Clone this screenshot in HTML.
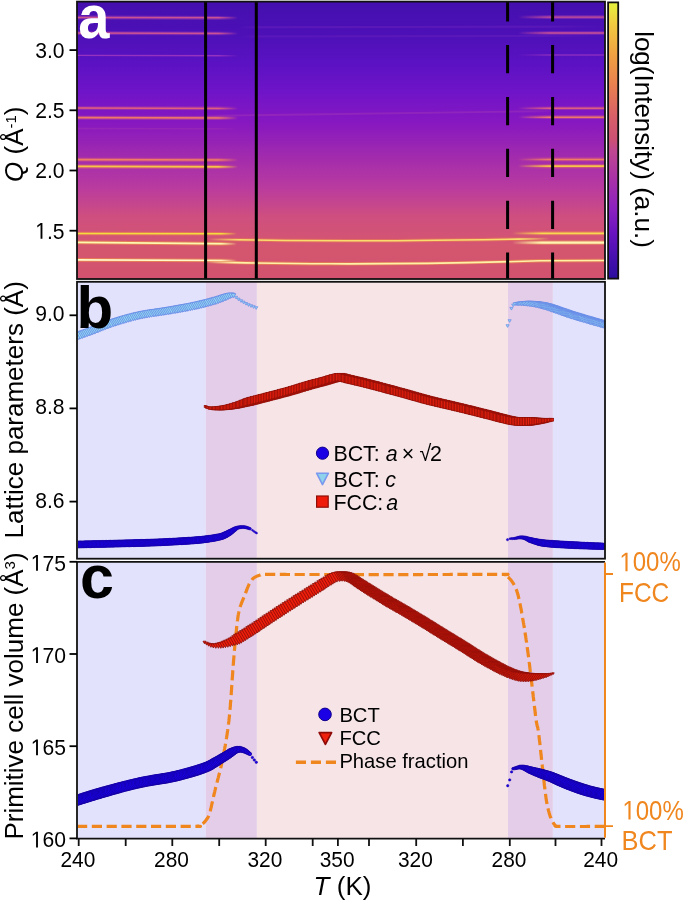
<!DOCTYPE html>
<html><head><meta charset="utf-8"><title>Figure</title><style>
html,body{margin:0;padding:0;background:#fff;}
svg{display:block;will-change:transform;font-family:"Liberation Sans",sans-serif;}
</style></head><body>
<svg width="685" height="903" viewBox="0 0 685 903">
<defs>
<linearGradient id="heat" x1="0" y1="0" x2="0" y2="1"><stop offset="0.0" stop-color="#440fae"/><stop offset="0.119" stop-color="#4d10b7"/><stop offset="0.217" stop-color="#5a12c2"/><stop offset="0.329" stop-color="#7014c8"/><stop offset="0.44" stop-color="#8818c0"/><stop offset="0.552" stop-color="#a02aae"/><stop offset="0.664" stop-color="#b83aa0"/><stop offset="0.776" stop-color="#cf4f7f"/><stop offset="0.888" stop-color="#d4566e"/><stop offset="1.0" stop-color="#d2526f"/></linearGradient>
<linearGradient id="cbar" x1="0" y1="0" x2="0" y2="1"><stop offset="0" stop-color="#e4f23c"/><stop offset="0.076" stop-color="#f0cc40"/><stop offset="0.187" stop-color="#f0a242"/><stop offset="0.299" stop-color="#e88050"/><stop offset="0.412" stop-color="#d86068"/><stop offset="0.497" stop-color="#cc5074"/><stop offset="0.535" stop-color="#c04890"/><stop offset="0.643" stop-color="#a830a8"/><stop offset="0.752" stop-color="#8a20c0"/><stop offset="0.832" stop-color="#6a14c0"/><stop offset="0.915" stop-color="#4a10b0"/><stop offset="1.0" stop-color="#2a0e9e"/></linearGradient>
<linearGradient id="fadeR" x1="0" y1="0" x2="1" y2="0"><stop offset="0" stop-color="#fff" stop-opacity="1"/><stop offset="1" stop-color="#fff" stop-opacity="0"/></linearGradient>
<clipPath id="clipA"><rect x="77" y="2" width="528" height="277"/></clipPath>
<clipPath id="clipB"><rect x="78" y="282.6" width="526.5" height="275.3"/></clipPath>
<clipPath id="clipC"><rect x="78" y="562.6" width="526.5" height="275.3"/></clipPath>
</defs>
<g clip-path="url(#clipA)">
<rect x="77" y="2" width="528" height="277" fill="url(#heat)"/>
<linearGradient id="g16" gradientUnits="userSpaceOnUse" x1="77" y1="0" x2="238" y2="0"><stop offset="0" stop-color="#b040b0" stop-opacity="0.45"/><stop offset="0.876" stop-color="#b040b0" stop-opacity="0.45"/><stop offset="1" stop-color="#b040b0" stop-opacity="0"/></linearGradient>
<path d="M77,17.4 L238,17.799999999999997" stroke="url(#g16)" stroke-width="3.7" fill="none"/>
<linearGradient id="g18" gradientUnits="userSpaceOnUse" x1="77" y1="0" x2="238" y2="0"><stop offset="0" stop-color="#d85a8c" stop-opacity="0.85"/><stop offset="0.876" stop-color="#d85a8c" stop-opacity="0.85"/><stop offset="1" stop-color="#d85a8c" stop-opacity="0"/></linearGradient>
<path d="M77,17.4 L238,17.799999999999997" stroke="url(#g18)" stroke-width="1.5" fill="none"/>
<linearGradient id="g20" gradientUnits="userSpaceOnUse" x1="77" y1="0" x2="238" y2="0"><stop offset="0" stop-color="#b040b0" stop-opacity="0.45"/><stop offset="0.876" stop-color="#b040b0" stop-opacity="0.45"/><stop offset="1" stop-color="#b040b0" stop-opacity="0"/></linearGradient>
<path d="M77,33.1 L238,33.5" stroke="url(#g20)" stroke-width="3.7" fill="none"/>
<linearGradient id="g22" gradientUnits="userSpaceOnUse" x1="77" y1="0" x2="238" y2="0"><stop offset="0" stop-color="#d85a8c" stop-opacity="0.85"/><stop offset="0.876" stop-color="#d85a8c" stop-opacity="0.85"/><stop offset="1" stop-color="#d85a8c" stop-opacity="0"/></linearGradient>
<path d="M77,33.1 L238,33.5" stroke="url(#g22)" stroke-width="1.5" fill="none"/>
<linearGradient id="g24" gradientUnits="userSpaceOnUse" x1="77" y1="0" x2="238" y2="0"><stop offset="0" stop-color="#b040c0" stop-opacity="0.7"/><stop offset="0.876" stop-color="#b040c0" stop-opacity="0.7"/><stop offset="1" stop-color="#b040c0" stop-opacity="0"/></linearGradient>
<path d="M77,55.4 L238,55.8" stroke="url(#g24)" stroke-width="1.4" fill="none"/>
<linearGradient id="g26" gradientUnits="userSpaceOnUse" x1="77" y1="0" x2="238" y2="0"><stop offset="0" stop-color="#c04890" stop-opacity="0.45"/><stop offset="0.876" stop-color="#c04890" stop-opacity="0.45"/><stop offset="1" stop-color="#c04890" stop-opacity="0"/></linearGradient>
<path d="M77,108.0 L238,108.4" stroke="url(#g26)" stroke-width="3.7" fill="none"/>
<linearGradient id="g28" gradientUnits="userSpaceOnUse" x1="77" y1="0" x2="238" y2="0"><stop offset="0" stop-color="#e0607c" stop-opacity="1"/><stop offset="0.876" stop-color="#e0607c" stop-opacity="1"/><stop offset="1" stop-color="#e0607c" stop-opacity="0"/></linearGradient>
<path d="M77,108.0 L238,108.4" stroke="url(#g28)" stroke-width="1.5" fill="none"/>
<linearGradient id="g30" gradientUnits="userSpaceOnUse" x1="77" y1="0" x2="238" y2="0"><stop offset="0" stop-color="#d05880" stop-opacity="0.45"/><stop offset="0.876" stop-color="#d05880" stop-opacity="0.45"/><stop offset="1" stop-color="#d05880" stop-opacity="0"/></linearGradient>
<path d="M77,117.6 L238,118.0" stroke="url(#g30)" stroke-width="3.8000000000000003" fill="none"/>
<linearGradient id="g32" gradientUnits="userSpaceOnUse" x1="77" y1="0" x2="238" y2="0"><stop offset="0" stop-color="#ee7868" stop-opacity="1"/><stop offset="0.876" stop-color="#ee7868" stop-opacity="1"/><stop offset="1" stop-color="#ee7868" stop-opacity="0"/></linearGradient>
<path d="M77,117.6 L238,118.0" stroke="url(#g32)" stroke-width="1.6" fill="none"/>
<linearGradient id="g34" gradientUnits="userSpaceOnUse" x1="77" y1="0" x2="238" y2="0"><stop offset="0" stop-color="#a83aa8" stop-opacity="0.35"/><stop offset="0.876" stop-color="#a83aa8" stop-opacity="0.35"/><stop offset="1" stop-color="#a83aa8" stop-opacity="0"/></linearGradient>
<path d="M77,128.5 L238,128.9" stroke="url(#g34)" stroke-width="1.4" fill="none"/>
<linearGradient id="g36" gradientUnits="userSpaceOnUse" x1="77" y1="0" x2="238" y2="0"><stop offset="0" stop-color="#e06070" stop-opacity="0.45"/><stop offset="0.876" stop-color="#e06070" stop-opacity="0.45"/><stop offset="1" stop-color="#e06070" stop-opacity="0"/></linearGradient>
<path d="M77,159.6 L238,160.0" stroke="url(#g36)" stroke-width="3.8000000000000003" fill="none"/>
<linearGradient id="g38" gradientUnits="userSpaceOnUse" x1="77" y1="0" x2="238" y2="0"><stop offset="0" stop-color="#ee7c66" stop-opacity="1"/><stop offset="0.876" stop-color="#ee7c66" stop-opacity="1"/><stop offset="1" stop-color="#ee7c66" stop-opacity="0"/></linearGradient>
<path d="M77,159.6 L238,160.0" stroke="url(#g38)" stroke-width="1.6" fill="none"/>
<linearGradient id="g40" gradientUnits="userSpaceOnUse" x1="77" y1="0" x2="238" y2="0"><stop offset="0" stop-color="#f08050" stop-opacity="0.45"/><stop offset="0.876" stop-color="#f08050" stop-opacity="0.45"/><stop offset="1" stop-color="#f08050" stop-opacity="0"/></linearGradient>
<path d="M77,166.4 L238,166.8" stroke="url(#g40)" stroke-width="4.0" fill="none"/>
<linearGradient id="g42" gradientUnits="userSpaceOnUse" x1="77" y1="0" x2="238" y2="0"><stop offset="0" stop-color="#f8c448" stop-opacity="1"/><stop offset="0.876" stop-color="#f8c448" stop-opacity="1"/><stop offset="1" stop-color="#f8c448" stop-opacity="0"/></linearGradient>
<path d="M77,166.4 L238,166.8" stroke="url(#g42)" stroke-width="1.8" fill="none"/>
<linearGradient id="g44" gradientUnits="userSpaceOnUse" x1="77" y1="0" x2="237" y2="0"><stop offset="0" stop-color="#f08848" stop-opacity="0.55"/><stop offset="0.900" stop-color="#f08848" stop-opacity="0.55"/><stop offset="1" stop-color="#f08848" stop-opacity="0"/></linearGradient>
<path d="M77,233.6 L237,233.7" stroke="url(#g44)" stroke-width="3.5" fill="none"/>
<linearGradient id="g46" gradientUnits="userSpaceOnUse" x1="77" y1="0" x2="237" y2="0"><stop offset="0" stop-color="#f4dc40" stop-opacity="1"/><stop offset="0.900" stop-color="#f4dc40" stop-opacity="1"/><stop offset="1" stop-color="#f4dc40" stop-opacity="0"/></linearGradient>
<path d="M77,233.6 L237,233.7" stroke="url(#g46)" stroke-width="1.5" fill="none"/>
<linearGradient id="g48" gradientUnits="userSpaceOnUse" x1="77" y1="0" x2="237" y2="0"><stop offset="0" stop-color="#f4a040" stop-opacity="0.55"/><stop offset="0.900" stop-color="#f4a040" stop-opacity="0.55"/><stop offset="1" stop-color="#f4a040" stop-opacity="0"/></linearGradient>
<path d="M77,242.3 L237,243.8" stroke="url(#g48)" stroke-width="3.7" fill="none"/>
<linearGradient id="g50" gradientUnits="userSpaceOnUse" x1="77" y1="0" x2="237" y2="0"><stop offset="0" stop-color="#fcf8b0" stop-opacity="1"/><stop offset="0.900" stop-color="#fcf8b0" stop-opacity="1"/><stop offset="1" stop-color="#fcf8b0" stop-opacity="0"/></linearGradient>
<path d="M77,242.3 L237,243.8" stroke="url(#g50)" stroke-width="1.7" fill="none"/>
<linearGradient id="g52" gradientUnits="userSpaceOnUse" x1="77" y1="0" x2="237" y2="0"><stop offset="0" stop-color="#f4a040" stop-opacity="0.55"/><stop offset="0.900" stop-color="#f4a040" stop-opacity="0.55"/><stop offset="1" stop-color="#f4a040" stop-opacity="0"/></linearGradient>
<path d="M77,259.8 L237,260.5" stroke="url(#g52)" stroke-width="3.7" fill="none"/>
<linearGradient id="g54" gradientUnits="userSpaceOnUse" x1="77" y1="0" x2="237" y2="0"><stop offset="0" stop-color="#fff8c8" stop-opacity="1"/><stop offset="0.900" stop-color="#fff8c8" stop-opacity="1"/><stop offset="1" stop-color="#fff8c8" stop-opacity="0"/></linearGradient>
<path d="M77,259.8 L237,260.5" stroke="url(#g54)" stroke-width="1.7" fill="none"/>
<linearGradient id="g56" gradientUnits="userSpaceOnUse" x1="518" y1="0" x2="605" y2="0"><stop offset="0" stop-color="#b040b0" stop-opacity="0"/><stop offset="0.368" stop-color="#b040b0" stop-opacity="0.45"/><stop offset="1" stop-color="#b040b0" stop-opacity="0.45"/></linearGradient>
<path d="M518,17.1 L605,17.1" stroke="url(#g56)" stroke-width="3.6" fill="none"/>
<linearGradient id="g58" gradientUnits="userSpaceOnUse" x1="518" y1="0" x2="605" y2="0"><stop offset="0" stop-color="#d85a8c" stop-opacity="0"/><stop offset="0.368" stop-color="#d85a8c" stop-opacity="0.8"/><stop offset="1" stop-color="#d85a8c" stop-opacity="0.8"/></linearGradient>
<path d="M518,17.1 L605,17.1" stroke="url(#g58)" stroke-width="1.4" fill="none"/>
<linearGradient id="g60" gradientUnits="userSpaceOnUse" x1="518" y1="0" x2="605" y2="0"><stop offset="0" stop-color="#b040b0" stop-opacity="0"/><stop offset="0.368" stop-color="#b040b0" stop-opacity="0.45"/><stop offset="1" stop-color="#b040b0" stop-opacity="0.45"/></linearGradient>
<path d="M518,33.0 L605,33.0" stroke="url(#g60)" stroke-width="3.6" fill="none"/>
<linearGradient id="g62" gradientUnits="userSpaceOnUse" x1="518" y1="0" x2="605" y2="0"><stop offset="0" stop-color="#d85a8c" stop-opacity="0"/><stop offset="0.368" stop-color="#d85a8c" stop-opacity="0.8"/><stop offset="1" stop-color="#d85a8c" stop-opacity="0.8"/></linearGradient>
<path d="M518,33.0 L605,33.0" stroke="url(#g62)" stroke-width="1.4" fill="none"/>
<linearGradient id="g64" gradientUnits="userSpaceOnUse" x1="518" y1="0" x2="605" y2="0"><stop offset="0" stop-color="#b040c0" stop-opacity="0"/><stop offset="0.368" stop-color="#b040c0" stop-opacity="0.55"/><stop offset="1" stop-color="#b040c0" stop-opacity="0.55"/></linearGradient>
<path d="M518,55.0 L605,55.0" stroke="url(#g64)" stroke-width="1.3" fill="none"/>
<linearGradient id="g66" gradientUnits="userSpaceOnUse" x1="518" y1="0" x2="605" y2="0"><stop offset="0" stop-color="#c04890" stop-opacity="0"/><stop offset="0.368" stop-color="#c04890" stop-opacity="0.45"/><stop offset="1" stop-color="#c04890" stop-opacity="0.45"/></linearGradient>
<path d="M518,108.2 L605,108.2" stroke="url(#g66)" stroke-width="3.6" fill="none"/>
<linearGradient id="g68" gradientUnits="userSpaceOnUse" x1="518" y1="0" x2="605" y2="0"><stop offset="0" stop-color="#e0607c" stop-opacity="0"/><stop offset="0.368" stop-color="#e0607c" stop-opacity="0.95"/><stop offset="1" stop-color="#e0607c" stop-opacity="0.95"/></linearGradient>
<path d="M518,108.2 L605,108.2" stroke="url(#g68)" stroke-width="1.4" fill="none"/>
<linearGradient id="g70" gradientUnits="userSpaceOnUse" x1="518" y1="0" x2="605" y2="0"><stop offset="0" stop-color="#d05880" stop-opacity="0"/><stop offset="0.368" stop-color="#d05880" stop-opacity="0.45"/><stop offset="1" stop-color="#d05880" stop-opacity="0.45"/></linearGradient>
<path d="M518,117.2 L605,117.2" stroke="url(#g70)" stroke-width="3.7" fill="none"/>
<linearGradient id="g72" gradientUnits="userSpaceOnUse" x1="518" y1="0" x2="605" y2="0"><stop offset="0" stop-color="#ee7868" stop-opacity="0"/><stop offset="0.368" stop-color="#ee7868" stop-opacity="1"/><stop offset="1" stop-color="#ee7868" stop-opacity="1"/></linearGradient>
<path d="M518,117.2 L605,117.2" stroke="url(#g72)" stroke-width="1.5" fill="none"/>
<linearGradient id="g74" gradientUnits="userSpaceOnUse" x1="518" y1="0" x2="605" y2="0"><stop offset="0" stop-color="#e06070" stop-opacity="0"/><stop offset="0.368" stop-color="#e06070" stop-opacity="0.45"/><stop offset="1" stop-color="#e06070" stop-opacity="0.45"/></linearGradient>
<path d="M518,159.4 L605,159.4" stroke="url(#g74)" stroke-width="3.7" fill="none"/>
<linearGradient id="g76" gradientUnits="userSpaceOnUse" x1="518" y1="0" x2="605" y2="0"><stop offset="0" stop-color="#ee7c66" stop-opacity="0"/><stop offset="0.368" stop-color="#ee7c66" stop-opacity="1"/><stop offset="1" stop-color="#ee7c66" stop-opacity="1"/></linearGradient>
<path d="M518,159.4 L605,159.4" stroke="url(#g76)" stroke-width="1.5" fill="none"/>
<linearGradient id="g78" gradientUnits="userSpaceOnUse" x1="518" y1="0" x2="605" y2="0"><stop offset="0" stop-color="#f08050" stop-opacity="0"/><stop offset="0.368" stop-color="#f08050" stop-opacity="0.45"/><stop offset="1" stop-color="#f08050" stop-opacity="0.45"/></linearGradient>
<path d="M518,166.2 L605,166.2" stroke="url(#g78)" stroke-width="3.9000000000000004" fill="none"/>
<linearGradient id="g80" gradientUnits="userSpaceOnUse" x1="518" y1="0" x2="605" y2="0"><stop offset="0" stop-color="#f8c448" stop-opacity="0"/><stop offset="0.368" stop-color="#f8c448" stop-opacity="1"/><stop offset="1" stop-color="#f8c448" stop-opacity="1"/></linearGradient>
<path d="M518,166.2 L605,166.2" stroke="url(#g80)" stroke-width="1.7" fill="none"/>
<linearGradient id="g82" gradientUnits="userSpaceOnUse" x1="512" y1="0" x2="605" y2="0"><stop offset="0" stop-color="#f09050" stop-opacity="0"/><stop offset="0.323" stop-color="#f09050" stop-opacity="0.45"/><stop offset="1" stop-color="#f09050" stop-opacity="0.45"/></linearGradient>
<path d="M512,233.3 L605,233.3" stroke="url(#g82)" stroke-width="4.0" fill="none"/>
<linearGradient id="g84" gradientUnits="userSpaceOnUse" x1="512" y1="0" x2="605" y2="0"><stop offset="0" stop-color="#f8d850" stop-opacity="0"/><stop offset="0.323" stop-color="#f8d850" stop-opacity="1"/><stop offset="1" stop-color="#f8d850" stop-opacity="1"/></linearGradient>
<path d="M512,233.3 L605,233.3" stroke="url(#g84)" stroke-width="1.8" fill="none"/>
<linearGradient id="g86" gradientUnits="userSpaceOnUse" x1="512" y1="0" x2="605" y2="0"><stop offset="0" stop-color="#f8c050" stop-opacity="0"/><stop offset="0.323" stop-color="#f8c050" stop-opacity="0.45"/><stop offset="1" stop-color="#f8c050" stop-opacity="0.45"/></linearGradient>
<path d="M512,242.6 L605,242.6" stroke="url(#g86)" stroke-width="4.4" fill="none"/>
<linearGradient id="g88" gradientUnits="userSpaceOnUse" x1="512" y1="0" x2="605" y2="0"><stop offset="0" stop-color="#fff4b0" stop-opacity="0"/><stop offset="0.323" stop-color="#fff4b0" stop-opacity="1"/><stop offset="1" stop-color="#fff4b0" stop-opacity="1"/></linearGradient>
<path d="M512,242.6 L605,242.6" stroke="url(#g88)" stroke-width="2.2" fill="none"/>
<linearGradient id="fccL" gradientUnits="userSpaceOnUse" x1="206" y1="0" x2="605" y2="0"><stop offset="0" stop-color="#fff0a8" stop-opacity="0"/><stop offset="0.07" stop-color="#fff0a8" stop-opacity="1"/><stop offset="1" stop-color="#fff0a8" stop-opacity="1"/></linearGradient>
<linearGradient id="fccG" gradientUnits="userSpaceOnUse" x1="206" y1="0" x2="605" y2="0"><stop offset="0" stop-color="#f4a040" stop-opacity="0"/><stop offset="0.07" stop-color="#f4a040" stop-opacity="0.5"/><stop offset="1" stop-color="#f4a040" stop-opacity="0.5"/></linearGradient>
<path d="M206,262.1 C240,262.6 270,263.6 330,263.8 S480,262.6 540,260.8 L605,260.5" stroke="url(#fccG)" stroke-width="3.4" fill="none"/>
<path d="M206,262.1 C240,262.6 270,263.6 330,263.8 S480,262.6 540,260.8 L605,260.5" stroke="url(#fccL)" stroke-width="1.6" fill="none"/>
<linearGradient id="fccU" gradientUnits="userSpaceOnUse" x1="208" y1="0" x2="550" y2="0"><stop offset="0" stop-color="#f8dc70" stop-opacity="0"/><stop offset="0.09" stop-color="#f8dc70" stop-opacity="1"/><stop offset="0.91" stop-color="#f8dc70" stop-opacity="1"/><stop offset="1" stop-color="#f8dc70" stop-opacity="0"/></linearGradient>
<linearGradient id="fccUG" gradientUnits="userSpaceOnUse" x1="208" y1="0" x2="550" y2="0"><stop offset="0" stop-color="#f08848" stop-opacity="0"/><stop offset="0.09" stop-color="#f08848" stop-opacity="0.5"/><stop offset="0.91" stop-color="#f08848" stop-opacity="0.5"/><stop offset="1" stop-color="#f08848" stop-opacity="0"/></linearGradient>
<path d="M208,239.4 C260,240.2 300,240.7 350,240.8 S460,239.9 550,238.6" stroke="url(#fccUG)" stroke-width="3.4" fill="none"/>
<path d="M208,239.4 C260,240.2 300,240.7 350,240.8 S460,239.9 550,238.6" stroke="url(#fccU)" stroke-width="1.6" fill="none"/>
<linearGradient id="g98" gradientUnits="userSpaceOnUse" x1="240" y1="0" x2="605" y2="0"><stop offset="0" stop-color="#9838c8" stop-opacity="0"/><stop offset="0.055" stop-color="#9838c8" stop-opacity="0.2"/><stop offset="0.836" stop-color="#9838c8" stop-opacity="0.2"/><stop offset="1" stop-color="#9838c8" stop-opacity="0"/></linearGradient>
<path d="M240,27.4 L605,26.5" stroke="url(#g98)" stroke-width="2.0" fill="none"/>
<linearGradient id="g100" gradientUnits="userSpaceOnUse" x1="240" y1="0" x2="605" y2="0"><stop offset="0" stop-color="#9838c8" stop-opacity="0"/><stop offset="0.055" stop-color="#9838c8" stop-opacity="0.17"/><stop offset="0.836" stop-color="#9838c8" stop-opacity="0.17"/><stop offset="1" stop-color="#9838c8" stop-opacity="0"/></linearGradient>
<path d="M240,36.5 L605,35.8" stroke="url(#g100)" stroke-width="2.0" fill="none"/>
<linearGradient id="g102" gradientUnits="userSpaceOnUse" x1="200" y1="0" x2="560" y2="0"><stop offset="0" stop-color="#c050a8" stop-opacity="0"/><stop offset="0.056" stop-color="#c050a8" stop-opacity="0.25"/><stop offset="0.917" stop-color="#c050a8" stop-opacity="0.25"/><stop offset="1" stop-color="#c050a8" stop-opacity="0"/></linearGradient>
<path d="M200,116 L560,111" stroke="url(#g102)" stroke-width="1.8" fill="none"/>
</g>
<g stroke="#000" stroke-width="3" fill="none">
<path d="M205.6,2 V279 M256.3,2 V279"/>
<path d="M507.6,2 V279 M552.6,2 V279" stroke-dasharray="28.3 23.6" stroke-dashoffset="8.9"/>
</g>
<rect x="77" y="1.6" width="528" height="277.4" fill="none" stroke="#111" stroke-width="1.8"/>
<rect x="608.1" y="2.4" width="10.1" height="276.2" fill="url(#cbar)" stroke="#111" stroke-width="1.8"/>
<text transform="translate(78.2,37.7) scale(0.92,1)" font-size="61" font-weight="bold" fill="#fff">a</text>
<path d="M69.5,50.1 H77.0" stroke="#000" stroke-width="1.8"/>
<g transform="translate(64.60,58.10) scale(0.96,1.04) translate(-64.60,-58.10)"><text x="34.02" y="58.10" font-size="22" fill="#000">3.0</text></g>
<path d="M69.5,110.3 H77.0" stroke="#000" stroke-width="1.8"/>
<g transform="translate(64.60,118.30) scale(0.96,1.04) translate(-64.60,-118.30)"><text x="34.02" y="118.30" font-size="22" fill="#000">2.5</text></g>
<path d="M69.5,170.5 H77.0" stroke="#000" stroke-width="1.8"/>
<g transform="translate(64.60,178.50) scale(0.96,1.04) translate(-64.60,-178.50)"><text x="34.02" y="178.50" font-size="22" fill="#000">2.0</text></g>
<path d="M69.5,230.7 H77.0" stroke="#000" stroke-width="1.8"/>
<g transform="translate(64.60,238.70) scale(0.96,1.04) translate(-64.60,-238.70)"><path transform="translate(34.02,238.70) scale(0.01074,-0.01074)" d="M515 0V1237L197 1010V1180L530 1409H696V0Z" fill="#000"/><text x="46.25" y="238.70" font-size="22" fill="#000">.5</text></g>
<text transform="translate(23.3,144.2) rotate(-90)" font-size="26" text-anchor="middle"><tspan font-style="italic">Q</tspan> (Å<tspan font-size="15" dy="-7.5">-1</tspan><tspan dy="7.5">)</tspan></text>
<text transform="translate(634.7,139.5) rotate(90)" font-size="26" text-anchor="middle">log(Intensity) (a.u.)</text>
<rect x="78.0" y="281.8" width="127.8" height="276.9" fill="#e2e2fd"/>
<rect x="205.8" y="281.8" width="51.1" height="276.9" fill="#e4cde8"/>
<rect x="256.9" y="281.8" width="251.1" height="276.9" fill="#f6e4e7"/>
<rect x="508.0" y="281.8" width="44.9" height="276.9" fill="#e4cde8"/>
<rect x="552.9" y="281.8" width="51.3" height="276.9" fill="#e2e2fd"/>
<g clip-path="url(#clipB)">
<g fill="#92d8f0" stroke="#6a8ce8" stroke-width="0.9"><path d="M65.8,335.6L74.2,335.6L70.0,342.8Z"/><path d="M67.5,335.1L75.9,335.1L71.7,342.2Z"/><path d="M69.4,334.4L77.8,334.4L73.6,341.6Z"/><path d="M70.9,333.9L79.3,333.9L75.1,341.1Z"/><path d="M72.8,333.2L81.2,333.2L77.0,340.4Z"/><path d="M74.6,332.6L83.0,332.6L78.8,339.7Z"/><path d="M76.3,332.0L84.7,332.0L80.5,339.1Z"/><path d="M78.2,331.3L86.6,331.3L82.4,338.4Z"/><path d="M79.8,330.7L88.2,330.7L84.0,337.8Z"/><path d="M81.4,330.1L89.8,330.1L85.6,337.2Z"/><path d="M83.1,329.5L91.5,329.5L87.3,336.6Z"/><path d="M84.8,328.9L93.2,328.9L89.0,336.0Z"/><path d="M86.5,328.2L94.9,328.2L90.7,335.4Z"/><path d="M88.1,327.6L96.5,327.6L92.3,334.8Z"/><path d="M89.7,327.1L98.1,327.1L93.9,334.2Z"/><path d="M91.2,326.5L99.6,326.5L95.4,333.6Z"/><path d="M92.8,325.9L101.2,325.9L97.0,333.0Z"/><path d="M94.3,325.3L102.7,325.3L98.5,332.4Z"/><path d="M95.8,324.7L104.2,324.7L100.0,331.8Z"/><path d="M97.6,323.9L106.0,323.9L101.8,331.1Z"/><path d="M99.5,323.2L107.9,323.2L103.7,330.3Z"/><path d="M101.3,322.5L109.7,322.5L105.5,329.6Z"/><path d="M102.8,321.9L111.2,321.9L107.0,329.0Z"/><path d="M104.4,321.3L112.8,321.3L108.6,328.4Z"/><path d="M106.0,320.7L114.4,320.7L110.2,327.9Z"/><path d="M107.5,320.2L115.9,320.2L111.7,327.3Z"/><path d="M109.4,319.6L117.8,319.6L113.6,326.7Z"/><path d="M110.9,319.1L119.3,319.1L115.1,326.2Z"/><path d="M112.5,318.6L120.9,318.6L116.7,325.7Z"/><path d="M114.1,318.1L122.5,318.1L118.3,325.2Z"/><path d="M115.7,317.6L124.1,317.6L119.9,324.7Z"/><path d="M117.3,317.1L125.7,317.1L121.5,324.2Z"/><path d="M118.9,316.6L127.3,316.6L123.1,323.7Z"/><path d="M120.5,316.1L128.9,316.1L124.7,323.3Z"/><path d="M122.1,315.7L130.5,315.7L126.3,322.8Z"/><path d="M124.0,315.1L132.4,315.1L128.2,322.3Z"/><path d="M125.8,314.6L134.2,314.6L130.0,321.8Z"/><path d="M127.4,314.2L135.8,314.2L131.6,321.3Z"/><path d="M129.4,313.7L137.8,313.7L133.6,320.8Z"/><path d="M131.2,313.2L139.6,313.2L135.4,320.4Z"/><path d="M133.0,312.8L141.4,312.8L137.2,319.9Z"/><path d="M134.7,312.4L143.1,312.4L138.9,319.5Z"/><path d="M136.6,312.0L145.0,312.0L140.8,319.1Z"/><path d="M138.2,311.6L146.6,311.6L142.4,318.8Z"/><path d="M139.9,311.3L148.3,311.3L144.1,318.4Z"/><path d="M141.8,310.9L150.2,310.9L146.0,318.1Z"/><path d="M143.5,310.6L151.9,310.6L147.7,317.8Z"/><path d="M145.3,310.3L153.7,310.3L149.5,317.5Z"/><path d="M147.2,310.0L155.6,310.0L151.4,317.2Z"/><path d="M149.1,309.7L157.5,309.7L153.3,316.9Z"/><path d="M150.7,309.5L159.1,309.5L154.9,316.7Z"/><path d="M152.4,309.3L160.8,309.3L156.6,316.4Z"/><path d="M154.0,309.0L162.4,309.0L158.2,316.2Z"/><path d="M155.7,308.8L164.1,308.8L159.9,315.9Z"/><path d="M157.4,308.6L165.8,308.6L161.6,315.7Z"/><path d="M159.0,308.3L167.4,308.3L163.2,315.4Z"/><path d="M160.7,308.1L169.1,308.1L164.9,315.2Z"/><path d="M162.4,307.8L170.8,307.8L166.6,314.9Z"/><path d="M164.1,307.5L172.5,307.5L168.3,314.7Z"/><path d="M165.8,307.2L174.2,307.2L170.0,314.4Z"/><path d="M167.7,306.9L176.1,306.9L171.9,314.1Z"/><path d="M169.7,306.6L178.1,306.6L173.9,313.7Z"/><path d="M171.3,306.3L179.7,306.3L175.5,313.4Z"/><path d="M172.9,306.0L181.3,306.0L177.1,313.2Z"/><path d="M174.6,305.7L183.0,305.7L178.8,312.9Z"/><path d="M176.2,305.4L184.6,305.4L180.4,312.6Z"/><path d="M177.9,305.1L186.3,305.1L182.1,312.3Z"/><path d="M179.5,304.8L187.9,304.8L183.7,312.0Z"/><path d="M181.2,304.5L189.6,304.5L185.4,311.7Z"/><path d="M182.8,304.2L191.2,304.2L187.0,311.4Z"/><path d="M184.4,303.9L192.8,303.9L188.6,311.1Z"/><path d="M186.3,303.6L194.7,303.6L190.5,310.7Z"/><path d="M188.2,303.2L196.6,303.2L192.4,310.3Z"/><path d="M190.1,302.8L198.5,302.8L194.3,309.9Z"/><path d="M191.8,302.4L200.2,302.4L196.0,309.6Z"/><path d="M193.7,302.0L202.0,302.0L197.9,309.2Z"/><path d="M195.5,301.6L203.9,301.6L199.7,308.7Z"/><path d="M197.3,301.2L205.6,301.2L201.5,308.3Z"/><path d="M199.0,300.8L207.3,300.8L203.2,307.9Z"/><path d="M200.7,300.4L209.0,300.4L204.9,307.5Z"/><path d="M202.4,300.0L210.6,300.0L206.5,307.0Z"/><path d="M203.9,299.6L212.2,299.6L208.1,306.6Z"/><path d="M205.8,299.1L214.1,299.1L210.0,306.1Z"/><path d="M207.6,298.6L215.9,298.6L211.7,305.6Z"/><path d="M209.3,298.2L217.5,298.2L213.4,305.1Z"/><path d="M210.9,297.7L219.1,297.7L215.0,304.7Z"/><path d="M212.5,297.3L220.6,297.3L216.6,304.2Z"/><path d="M214.5,296.7L222.5,296.7L218.5,303.5Z"/><path d="M216.1,296.2L224.0,296.2L220.1,302.9Z"/><path d="M218.0,295.6L225.8,295.6L221.9,302.2Z"/><path d="M219.6,295.0L227.3,295.0L223.5,301.5Z"/><path d="M221.2,294.5L228.8,294.5L225.0,300.9Z"/><path d="M222.9,294.0L230.2,294.0L226.5,300.3Z"/><path d="M224.7,293.5L231.7,293.5L228.2,299.5Z"/><path d="M226.6,293.1L233.3,293.1L229.9,298.8Z"/><path d="M228.6,293.0L234.6,293.0L231.6,298.1Z"/><path d="M231.1,293.7L235.8,293.7L233.5,297.7Z"/></g>
<g fill="#92d8f0" stroke="#6a8ce8" stroke-width="0.7"><path d="M234.4,296.3L237.6,296.3L236.0,299.0Z"/><path d="M236.9,298.1L240.1,298.1L238.5,300.8Z"/><path d="M239.4,299.7L242.6,299.7L241.0,302.4Z"/><path d="M241.9,301.1L245.1,301.1L243.5,303.8Z"/><path d="M244.4,302.5L247.6,302.5L246.0,305.2Z"/><path d="M246.9,303.7L250.1,303.7L248.5,306.4Z"/><path d="M249.4,304.7L252.6,304.7L251.0,307.4Z"/><path d="M252.0,305.7L255.2,305.7L253.6,308.4Z"/><path d="M254.6,306.7L257.8,306.7L256.2,309.4Z"/></g>
<g fill="#92d8f0" stroke="#6a8ce8" stroke-width="0.9"><path d="M514.3,302.6L517.7,302.6L516.0,305.5Z"/><path d="M515.4,302.4L519.1,302.4L517.3,305.6Z"/><path d="M516.6,302.2L520.6,302.2L518.6,305.6Z"/><path d="M517.8,301.9L522.2,301.9L520.0,305.7Z"/><path d="M519.2,301.8L523.9,301.8L521.6,305.8Z"/><path d="M520.7,301.6L525.7,301.6L523.2,305.9Z"/><path d="M521.9,301.5L527.2,301.5L524.5,306.0Z"/><path d="M523.3,301.4L528.9,301.4L526.1,306.1Z"/><path d="M524.8,301.3L530.7,301.3L527.7,306.3Z"/><path d="M526.3,301.3L532.4,301.3L529.4,306.5Z"/><path d="M527.8,301.3L534.2,301.3L531.0,306.8Z"/><path d="M529.2,301.4L535.9,301.4L532.5,307.0Z"/><path d="M530.7,301.5L537.5,301.5L534.1,307.2Z"/><path d="M532.2,301.6L539.2,301.6L535.7,307.5Z"/><path d="M533.4,301.7L540.6,301.7L537.0,307.8Z"/><path d="M534.8,301.9L542.1,301.9L538.5,308.2Z"/><path d="M536.3,302.2L543.8,302.2L540.1,308.5Z"/><path d="M537.5,302.4L545.1,302.4L541.3,308.9Z"/><path d="M538.7,302.6L546.4,302.6L542.5,309.2Z"/><path d="M539.8,302.8L547.7,302.8L543.8,309.5Z"/><path d="M541.0,303.1L549.0,303.1L545.0,309.9Z"/><path d="M542.4,303.5L550.5,303.5L546.5,310.3Z"/><path d="M543.7,303.8L551.8,303.8L547.8,310.7Z"/><path d="M545.0,304.2L553.3,304.2L549.2,311.2Z"/><path d="M546.2,304.6L554.5,304.6L550.4,311.6Z"/><path d="M547.7,305.1L556.0,305.1L551.8,312.2Z"/><path d="M549.1,305.5L557.5,305.5L553.3,312.7Z"/><path d="M550.3,306.0L558.7,306.0L554.5,313.1Z"/><path d="M551.6,306.4L560.0,306.4L555.8,313.6Z"/><path d="M553.1,306.9L561.5,306.9L557.3,314.1Z"/><path d="M554.6,307.5L563.0,307.5L558.8,314.6Z"/><path d="M556.1,308.0L564.5,308.0L560.3,315.2Z"/><path d="M557.4,308.5L565.8,308.5L561.6,315.6Z"/><path d="M558.6,308.9L567.0,308.9L562.8,316.0Z"/><path d="M559.9,309.3L568.3,309.3L564.1,316.5Z"/><path d="M561.1,309.8L569.5,309.8L565.3,316.9Z"/><path d="M562.4,310.2L570.8,310.2L566.6,317.4Z"/><path d="M563.7,310.6L572.1,310.6L567.9,317.8Z"/><path d="M565.0,311.1L573.4,311.1L569.2,318.2Z"/><path d="M566.2,311.5L574.6,311.5L570.4,318.6Z"/><path d="M567.6,311.9L576.0,311.9L571.8,319.1Z"/><path d="M569.2,312.4L577.6,312.4L573.4,319.5Z"/><path d="M570.7,312.9L579.1,312.9L574.9,320.0Z"/><path d="M571.9,313.2L580.3,313.2L576.1,320.4Z"/><path d="M573.1,313.6L581.5,313.6L577.3,320.8Z"/><path d="M574.4,314.0L582.8,314.0L578.6,321.1Z"/><path d="M575.6,314.3L584.0,314.3L579.8,321.5Z"/><path d="M576.8,314.7L585.2,314.7L581.0,321.8Z"/><path d="M578.0,315.1L586.4,315.1L582.2,322.2Z"/><path d="M579.6,315.5L588.0,315.5L583.8,322.7Z"/><path d="M581.2,316.0L589.6,316.0L585.4,323.1Z"/><path d="M582.7,316.4L591.1,316.4L586.9,323.6Z"/><path d="M584.1,316.8L592.5,316.8L588.3,324.0Z"/><path d="M585.5,317.2L593.9,317.2L589.7,324.4Z"/><path d="M586.7,317.6L595.1,317.6L590.9,324.8Z"/><path d="M588.1,318.0L596.5,318.0L592.3,325.1Z"/><path d="M589.4,318.4L597.8,318.4L593.6,325.5Z"/><path d="M590.7,318.7L599.1,318.7L594.9,325.9Z"/><path d="M592.0,319.1L600.4,319.1L596.2,326.2Z"/><path d="M593.5,319.5L602.0,319.5L597.8,326.7Z"/><path d="M595.1,320.0L603.5,320.0L599.3,327.1Z"/><path d="M596.5,320.3L604.9,320.3L600.7,327.5Z"/><path d="M597.9,320.7L606.3,320.7L602.1,327.9Z"/><path d="M599.2,321.1L607.6,321.1L603.4,328.2Z"/><path d="M600.9,321.5L609.3,321.5L605.1,328.7Z"/><path d="M602.4,321.9L610.8,321.9L606.6,329.1Z"/><path d="M603.8,322.3L612.2,322.3L608.0,329.5Z"/><path d="M605.1,322.6L613.5,322.6L609.3,329.8Z"/><path d="M606.5,323.0L614.9,323.0L610.7,330.1Z"/><path d="M607.8,323.3L616.2,323.3L612.0,330.5Z"/></g>
<g fill="#92d8f0" stroke="#6a8ce8" stroke-width="0.7"><path d="M506.0,324.7L509.2,324.7L507.6,327.4Z"/><path d="M508.0,319.7L511.2,319.7L509.6,322.4Z"/><path d="M509.8,307.4L513.0,307.4L511.4,310.1Z"/><path d="M511.6,304.0L514.8,304.0L513.2,306.7Z"/><path d="M513.2,302.7L516.4,302.7L514.8,305.4Z"/></g>
<g fill="#e6200e" stroke="#8e0f08" stroke-width="0.7"><rect x="204.2" y="405.4" width="2.02" height="2.02"/><rect x="205.5" y="406.0" width="2.16" height="2.16"/><rect x="206.8" y="406.4" width="2.32" height="2.32"/><rect x="208.3" y="406.8" width="2.48" height="2.48"/><rect x="209.9" y="406.9" width="2.66" height="2.66"/><rect x="211.4" y="406.9" width="2.84" height="2.84"/><rect x="212.6" y="406.8" width="3.01" height="3.01"/><rect x="214.1" y="406.7" width="3.21" height="3.21"/><rect x="215.6" y="406.5" width="3.42" height="3.42"/><rect x="216.9" y="406.3" width="3.59" height="3.59"/><rect x="218.1" y="406.2" width="3.76" height="3.76"/><rect x="219.4" y="406.0" width="3.94" height="3.94"/><rect x="220.7" y="405.8" width="4.11" height="4.11"/><rect x="222.2" y="405.5" width="4.32" height="4.32"/><rect x="223.7" y="405.2" width="4.52" height="4.52"/><rect x="225.1" y="404.9" width="4.72" height="4.72"/><rect x="226.6" y="404.5" width="4.91" height="4.91"/><rect x="228.0" y="404.1" width="5.11" height="5.11"/><rect x="229.5" y="403.7" width="5.32" height="5.32"/><rect x="231.0" y="403.2" width="5.52" height="5.52"/><rect x="232.6" y="402.7" width="5.74" height="5.74"/><rect x="234.0" y="402.3" width="5.93" height="5.93"/><rect x="235.4" y="401.8" width="6.12" height="6.12"/><rect x="236.7" y="401.3" width="6.30" height="6.30"/><rect x="238.1" y="400.8" width="6.49" height="6.49"/><rect x="239.5" y="400.2" width="6.68" height="6.68"/><rect x="240.9" y="399.7" width="6.88" height="6.88"/><rect x="242.5" y="399.1" width="7.09" height="7.09"/><rect x="243.7" y="398.6" width="7.25" height="7.25"/><rect x="244.9" y="398.2" width="7.42" height="7.42"/><rect x="246.2" y="397.7" width="7.60" height="7.60"/><rect x="247.6" y="397.3" width="7.60" height="7.60"/><rect x="249.0" y="397.0" width="7.60" height="7.60"/><rect x="250.5" y="396.6" width="7.60" height="7.60"/><rect x="252.0" y="396.2" width="7.60" height="7.60"/><rect x="253.6" y="395.8" width="7.60" height="7.60"/><rect x="255.2" y="395.3" width="7.60" height="7.60"/><rect x="256.9" y="394.9" width="7.60" height="7.60"/><rect x="258.5" y="394.5" width="7.60" height="7.60"/><rect x="260.1" y="394.1" width="7.60" height="7.60"/><rect x="261.8" y="393.7" width="7.60" height="7.60"/><rect x="263.4" y="393.2" width="7.60" height="7.60"/><rect x="265.0" y="392.8" width="7.60" height="7.60"/><rect x="266.6" y="392.4" width="7.60" height="7.60"/><rect x="268.2" y="392.0" width="7.60" height="7.60"/><rect x="269.7" y="391.6" width="7.60" height="7.60"/><rect x="271.3" y="391.2" width="7.60" height="7.60"/><rect x="272.9" y="390.8" width="7.60" height="7.60"/><rect x="274.4" y="390.4" width="7.60" height="7.60"/><rect x="276.0" y="390.0" width="7.60" height="7.60"/><rect x="277.6" y="389.5" width="7.60" height="7.60"/><rect x="279.1" y="389.1" width="7.60" height="7.60"/><rect x="280.7" y="388.7" width="7.60" height="7.60"/><rect x="282.3" y="388.3" width="7.60" height="7.60"/><rect x="283.8" y="387.9" width="7.60" height="7.60"/><rect x="285.4" y="387.4" width="7.60" height="7.60"/><rect x="287.0" y="387.0" width="7.60" height="7.60"/><rect x="288.5" y="386.5" width="7.60" height="7.60"/><rect x="290.1" y="386.1" width="7.60" height="7.60"/><rect x="291.7" y="385.6" width="7.60" height="7.60"/><rect x="293.3" y="385.1" width="7.60" height="7.60"/><rect x="294.9" y="384.6" width="7.60" height="7.60"/><rect x="296.5" y="384.1" width="7.60" height="7.60"/><rect x="298.1" y="383.6" width="7.60" height="7.60"/><rect x="299.6" y="383.1" width="7.60" height="7.60"/><rect x="301.2" y="382.7" width="7.60" height="7.60"/><rect x="302.7" y="382.2" width="7.60" height="7.60"/><rect x="304.1" y="381.8" width="7.60" height="7.60"/><rect x="305.5" y="381.4" width="7.60" height="7.60"/><rect x="307.1" y="380.9" width="7.60" height="7.60"/><rect x="308.5" y="380.5" width="7.60" height="7.60"/><rect x="309.8" y="380.2" width="7.60" height="7.60"/><rect x="311.1" y="379.8" width="7.60" height="7.60"/><rect x="312.4" y="379.5" width="7.60" height="7.60"/><rect x="314.0" y="379.1" width="7.60" height="7.60"/><rect x="315.6" y="378.7" width="7.60" height="7.60"/><rect x="317.2" y="378.3" width="7.60" height="7.60"/><rect x="318.6" y="377.9" width="7.60" height="7.60"/><rect x="319.9" y="377.5" width="7.60" height="7.60"/><rect x="321.2" y="377.2" width="7.60" height="7.60"/><rect x="322.8" y="376.7" width="7.60" height="7.60"/><rect x="324.2" y="376.3" width="7.60" height="7.60"/><rect x="325.5" y="375.9" width="7.60" height="7.60"/><rect x="326.9" y="375.5" width="7.60" height="7.60"/><rect x="328.3" y="375.1" width="7.60" height="7.60"/><rect x="329.7" y="374.6" width="7.60" height="7.60"/><rect x="331.2" y="374.3" width="7.60" height="7.60"/><rect x="332.7" y="373.9" width="7.60" height="7.60"/><rect x="334.2" y="373.6" width="7.60" height="7.60"/><rect x="335.5" y="373.4" width="7.60" height="7.60"/><rect x="337.2" y="373.3" width="7.60" height="7.60"/><rect x="338.9" y="373.7" width="7.60" height="7.60"/><rect x="340.2" y="374.0" width="7.60" height="7.60"/><rect x="341.6" y="374.4" width="7.60" height="7.60"/><rect x="343.1" y="374.8" width="7.60" height="7.60"/><rect x="344.5" y="375.2" width="7.60" height="7.60"/><rect x="345.8" y="375.5" width="7.60" height="7.60"/><rect x="347.2" y="375.8" width="7.60" height="7.60"/><rect x="348.8" y="376.2" width="7.60" height="7.60"/><rect x="350.2" y="376.5" width="7.60" height="7.60"/><rect x="351.7" y="376.9" width="7.60" height="7.60"/><rect x="353.1" y="377.2" width="7.60" height="7.60"/><rect x="354.6" y="377.6" width="7.60" height="7.60"/><rect x="356.1" y="377.9" width="7.60" height="7.60"/><rect x="357.5" y="378.2" width="7.60" height="7.60"/><rect x="358.9" y="378.6" width="7.60" height="7.60"/><rect x="360.5" y="379.0" width="7.60" height="7.60"/><rect x="361.9" y="379.3" width="7.60" height="7.60"/><rect x="363.4" y="379.7" width="7.60" height="7.60"/><rect x="365.0" y="380.1" width="7.60" height="7.60"/><rect x="366.5" y="380.5" width="7.60" height="7.60"/><rect x="368.0" y="380.9" width="7.60" height="7.60"/><rect x="369.3" y="381.2" width="7.60" height="7.60"/><rect x="370.7" y="381.6" width="7.60" height="7.60"/><rect x="372.1" y="381.9" width="7.60" height="7.60"/><rect x="373.6" y="382.3" width="7.60" height="7.60"/><rect x="375.1" y="382.7" width="7.60" height="7.60"/><rect x="376.7" y="383.2" width="7.60" height="7.60"/><rect x="378.3" y="383.6" width="7.60" height="7.60"/><rect x="380.0" y="384.0" width="7.60" height="7.60"/><rect x="381.7" y="384.5" width="7.60" height="7.60"/><rect x="382.9" y="384.8" width="7.60" height="7.60"/><rect x="384.2" y="385.2" width="7.60" height="7.60"/><rect x="385.5" y="385.5" width="7.60" height="7.60"/><rect x="386.7" y="385.8" width="7.60" height="7.60"/><rect x="388.0" y="386.2" width="7.60" height="7.60"/><rect x="389.3" y="386.5" width="7.60" height="7.60"/><rect x="390.5" y="386.9" width="7.60" height="7.60"/><rect x="392.2" y="387.3" width="7.60" height="7.60"/><rect x="393.8" y="387.8" width="7.60" height="7.60"/><rect x="395.4" y="388.2" width="7.60" height="7.60"/><rect x="397.0" y="388.6" width="7.60" height="7.60"/><rect x="398.5" y="389.0" width="7.60" height="7.60"/><rect x="400.1" y="389.5" width="7.60" height="7.60"/><rect x="401.7" y="389.9" width="7.60" height="7.60"/><rect x="403.2" y="390.3" width="7.60" height="7.60"/><rect x="404.8" y="390.8" width="7.60" height="7.60"/><rect x="406.3" y="391.2" width="7.60" height="7.60"/><rect x="407.9" y="391.7" width="7.60" height="7.60"/><rect x="409.4" y="392.1" width="7.60" height="7.60"/><rect x="411.0" y="392.6" width="7.60" height="7.60"/><rect x="412.6" y="393.0" width="7.60" height="7.60"/><rect x="414.1" y="393.4" width="7.60" height="7.60"/><rect x="415.7" y="393.9" width="7.60" height="7.60"/><rect x="417.2" y="394.3" width="7.60" height="7.60"/><rect x="418.8" y="394.7" width="7.60" height="7.60"/><rect x="420.4" y="395.2" width="7.60" height="7.60"/><rect x="421.9" y="395.6" width="7.60" height="7.60"/><rect x="423.5" y="396.0" width="7.60" height="7.60"/><rect x="425.0" y="396.4" width="7.60" height="7.60"/><rect x="426.6" y="396.8" width="7.60" height="7.60"/><rect x="428.1" y="397.2" width="7.60" height="7.60"/><rect x="429.7" y="397.6" width="7.60" height="7.60"/><rect x="431.3" y="398.0" width="7.60" height="7.60"/><rect x="432.8" y="398.3" width="7.60" height="7.60"/><rect x="434.4" y="398.7" width="7.60" height="7.60"/><rect x="435.9" y="399.1" width="7.60" height="7.60"/><rect x="437.5" y="399.4" width="7.60" height="7.60"/><rect x="439.1" y="399.8" width="7.60" height="7.60"/><rect x="440.6" y="400.2" width="7.60" height="7.60"/><rect x="442.2" y="400.5" width="7.60" height="7.60"/><rect x="443.7" y="400.9" width="7.60" height="7.60"/><rect x="445.3" y="401.2" width="7.60" height="7.60"/><rect x="446.8" y="401.6" width="7.60" height="7.60"/><rect x="448.4" y="402.0" width="7.60" height="7.60"/><rect x="450.0" y="402.3" width="7.60" height="7.60"/><rect x="451.5" y="402.7" width="7.60" height="7.60"/><rect x="453.1" y="403.1" width="7.60" height="7.60"/><rect x="454.6" y="403.4" width="7.60" height="7.60"/><rect x="456.2" y="403.8" width="7.60" height="7.60"/><rect x="457.8" y="404.2" width="7.60" height="7.60"/><rect x="459.4" y="404.6" width="7.60" height="7.60"/><rect x="461.0" y="405.0" width="7.60" height="7.60"/><rect x="462.7" y="405.4" width="7.60" height="7.60"/><rect x="464.4" y="405.8" width="7.60" height="7.60"/><rect x="465.6" y="406.1" width="7.60" height="7.60"/><rect x="466.9" y="406.4" width="7.60" height="7.60"/><rect x="468.2" y="406.8" width="7.60" height="7.60"/><rect x="469.4" y="407.1" width="7.60" height="7.60"/><rect x="471.1" y="407.5" width="7.60" height="7.60"/><rect x="472.8" y="407.9" width="7.60" height="7.60"/><rect x="474.4" y="408.3" width="7.60" height="7.60"/><rect x="476.0" y="408.7" width="7.60" height="7.60"/><rect x="477.6" y="409.1" width="7.60" height="7.60"/><rect x="479.1" y="409.5" width="7.60" height="7.60"/><rect x="480.6" y="409.9" width="7.60" height="7.60"/><rect x="482.0" y="410.2" width="7.60" height="7.60"/><rect x="483.4" y="410.6" width="7.60" height="7.60"/><rect x="484.7" y="410.9" width="7.60" height="7.60"/><rect x="486.2" y="411.3" width="7.60" height="7.60"/><rect x="487.9" y="411.7" width="7.60" height="7.60"/><rect x="489.4" y="412.1" width="7.60" height="7.60"/><rect x="490.9" y="412.5" width="7.60" height="7.60"/><rect x="492.2" y="412.9" width="7.60" height="7.60"/><rect x="493.7" y="413.3" width="7.60" height="7.60"/><rect x="495.2" y="413.7" width="7.60" height="7.60"/><rect x="496.6" y="414.0" width="7.60" height="7.60"/><rect x="497.9" y="414.4" width="7.60" height="7.60"/><rect x="499.2" y="414.7" width="7.60" height="7.60"/><rect x="500.5" y="415.0" width="7.60" height="7.60"/><rect x="502.1" y="415.4" width="7.60" height="7.60"/><rect x="503.7" y="415.8" width="7.60" height="7.60"/><rect x="505.3" y="416.2" width="7.60" height="7.60"/><rect x="506.8" y="416.5" width="7.60" height="7.60"/><rect x="508.3" y="416.8" width="7.60" height="7.60"/><rect x="509.8" y="417.1" width="7.60" height="7.60"/><rect x="511.4" y="417.3" width="7.60" height="7.60"/><rect x="513.0" y="417.5" width="7.60" height="7.60"/><rect x="514.5" y="417.6" width="7.60" height="7.60"/><rect x="516.1" y="417.7" width="7.60" height="7.60"/><rect x="517.7" y="417.7" width="7.60" height="7.60"/><rect x="519.4" y="417.7" width="7.60" height="7.60"/><rect x="521.0" y="417.7" width="7.60" height="7.60"/><rect x="522.6" y="417.7" width="7.60" height="7.60"/><rect x="524.3" y="417.6" width="7.60" height="7.60"/><rect x="525.8" y="417.6" width="7.60" height="7.60"/><rect x="527.6" y="417.7" width="7.33" height="7.33"/><rect x="529.4" y="417.8" width="6.97" height="6.97"/><rect x="531.2" y="417.9" width="6.62" height="6.62"/><rect x="533.0" y="418.0" width="6.27" height="6.27"/><rect x="534.8" y="418.1" width="5.92" height="5.92"/><rect x="536.5" y="418.2" width="5.58" height="5.58"/><rect x="538.2" y="418.3" width="5.24" height="5.24"/><rect x="540.0" y="418.3" width="4.90" height="4.90"/><rect x="541.5" y="418.3" width="4.60" height="4.60"/><rect x="543.0" y="418.4" width="4.30" height="4.30"/><rect x="544.6" y="418.4" width="3.99" height="3.99"/><rect x="546.2" y="418.3" width="3.68" height="3.68"/><rect x="547.7" y="418.3" width="3.39" height="3.39"/><rect x="549.4" y="418.3" width="3.04" height="3.04"/><rect x="550.9" y="418.3" width="2.76" height="2.76"/></g>
<g fill="#1c00ee" stroke="#140098" stroke-width="0.6"><circle cx="70.0" cy="544.7" r="3.50"/><circle cx="71.2" cy="544.6" r="3.50"/><circle cx="72.7" cy="544.6" r="3.50"/><circle cx="74.5" cy="544.6" r="3.50"/><circle cx="75.6" cy="544.5" r="3.50"/><circle cx="77.0" cy="544.5" r="3.50"/><circle cx="78.2" cy="544.5" r="3.50"/><circle cx="79.4" cy="544.4" r="3.50"/><circle cx="80.6" cy="544.4" r="3.50"/><circle cx="81.8" cy="544.4" r="3.50"/><circle cx="83.2" cy="544.4" r="3.50"/><circle cx="84.6" cy="544.3" r="3.50"/><circle cx="85.8" cy="544.3" r="3.50"/><circle cx="86.9" cy="544.3" r="3.50"/><circle cx="88.1" cy="544.2" r="3.50"/><circle cx="89.3" cy="544.2" r="3.50"/><circle cx="90.6" cy="544.2" r="3.50"/><circle cx="91.8" cy="544.2" r="3.50"/><circle cx="93.1" cy="544.1" r="3.50"/><circle cx="94.4" cy="544.1" r="3.50"/><circle cx="95.8" cy="544.1" r="3.50"/><circle cx="97.1" cy="544.0" r="3.50"/><circle cx="98.5" cy="544.0" r="3.50"/><circle cx="99.8" cy="544.0" r="3.50"/><circle cx="101.2" cy="544.0" r="3.50"/><circle cx="102.6" cy="543.9" r="3.50"/><circle cx="103.9" cy="543.9" r="3.50"/><circle cx="105.3" cy="543.9" r="3.50"/><circle cx="106.7" cy="543.8" r="3.50"/><circle cx="108.1" cy="543.8" r="3.50"/><circle cx="109.4" cy="543.8" r="3.50"/><circle cx="110.7" cy="543.7" r="3.50"/><circle cx="112.1" cy="543.7" r="3.50"/><circle cx="113.4" cy="543.7" r="3.50"/><circle cx="114.7" cy="543.6" r="3.50"/><circle cx="116.0" cy="543.6" r="3.50"/><circle cx="117.2" cy="543.6" r="3.50"/><circle cx="118.4" cy="543.5" r="3.50"/><circle cx="119.6" cy="543.5" r="3.50"/><circle cx="120.8" cy="543.5" r="3.50"/><circle cx="122.1" cy="543.4" r="3.50"/><circle cx="123.3" cy="543.4" r="3.50"/><circle cx="124.6" cy="543.4" r="3.50"/><circle cx="125.8" cy="543.3" r="3.50"/><circle cx="127.0" cy="543.3" r="3.50"/><circle cx="128.3" cy="543.3" r="3.50"/><circle cx="129.5" cy="543.3" r="3.50"/><circle cx="130.7" cy="543.2" r="3.50"/><circle cx="131.9" cy="543.2" r="3.50"/><circle cx="133.2" cy="543.2" r="3.50"/><circle cx="134.4" cy="543.1" r="3.50"/><circle cx="135.6" cy="543.1" r="3.50"/><circle cx="136.8" cy="543.1" r="3.50"/><circle cx="138.0" cy="543.0" r="3.50"/><circle cx="139.2" cy="543.0" r="3.50"/><circle cx="140.4" cy="543.0" r="3.50"/><circle cx="141.6" cy="542.9" r="3.50"/><circle cx="142.8" cy="542.9" r="3.50"/><circle cx="144.0" cy="542.9" r="3.50"/><circle cx="145.2" cy="542.8" r="3.50"/><circle cx="146.4" cy="542.8" r="3.50"/><circle cx="147.6" cy="542.8" r="3.50"/><circle cx="148.8" cy="542.7" r="3.50"/><circle cx="150.0" cy="542.7" r="3.50"/><circle cx="151.1" cy="542.6" r="3.50"/><circle cx="152.3" cy="542.6" r="3.50"/><circle cx="153.5" cy="542.6" r="3.50"/><circle cx="154.6" cy="542.5" r="3.50"/><circle cx="155.8" cy="542.5" r="3.50"/><circle cx="156.9" cy="542.4" r="3.50"/><circle cx="158.1" cy="542.4" r="3.50"/><circle cx="159.2" cy="542.3" r="3.50"/><circle cx="160.4" cy="542.3" r="3.50"/><circle cx="161.7" cy="542.2" r="3.50"/><circle cx="163.0" cy="542.2" r="3.50"/><circle cx="164.3" cy="542.1" r="3.50"/><circle cx="165.6" cy="542.0" r="3.50"/><circle cx="166.9" cy="542.0" r="3.50"/><circle cx="168.2" cy="541.9" r="3.50"/><circle cx="169.6" cy="541.8" r="3.50"/><circle cx="170.9" cy="541.8" r="3.50"/><circle cx="172.2" cy="541.7" r="3.50"/><circle cx="173.6" cy="541.6" r="3.50"/><circle cx="174.9" cy="541.6" r="3.50"/><circle cx="176.2" cy="541.5" r="3.50"/><circle cx="177.5" cy="541.4" r="3.50"/><circle cx="178.8" cy="541.3" r="3.50"/><circle cx="180.0" cy="541.2" r="3.50"/><circle cx="181.3" cy="541.2" r="3.50"/><circle cx="182.6" cy="541.1" r="3.50"/><circle cx="183.8" cy="541.0" r="3.50"/><circle cx="185.0" cy="540.9" r="3.50"/><circle cx="186.2" cy="540.9" r="3.50"/><circle cx="187.3" cy="540.8" r="3.50"/><circle cx="188.5" cy="540.7" r="3.50"/><circle cx="189.6" cy="540.7" r="3.50"/><circle cx="191.0" cy="540.6" r="3.50"/><circle cx="192.3" cy="540.5" r="3.50"/><circle cx="193.6" cy="540.4" r="3.50"/><circle cx="194.9" cy="540.3" r="3.50"/><circle cx="196.0" cy="540.2" r="3.50"/><circle cx="197.4" cy="540.1" r="3.49"/><circle cx="198.6" cy="540.0" r="3.48"/><circle cx="199.7" cy="539.9" r="3.47"/><circle cx="201.3" cy="539.8" r="3.46"/><circle cx="202.6" cy="539.6" r="3.45"/><circle cx="203.7" cy="539.5" r="3.44"/><circle cx="205.1" cy="539.3" r="3.43"/><circle cx="206.3" cy="539.1" r="3.43"/><circle cx="207.5" cy="539.0" r="3.42"/><circle cx="208.7" cy="538.8" r="3.41"/><circle cx="210.0" cy="538.6" r="3.40"/><circle cx="211.4" cy="538.4" r="3.39"/><circle cx="212.8" cy="538.2" r="3.37"/><circle cx="214.1" cy="538.0" r="3.36"/><circle cx="215.4" cy="537.7" r="3.35"/><circle cx="216.6" cy="537.5" r="3.33"/><circle cx="217.7" cy="537.3" r="3.32"/><circle cx="219.1" cy="537.0" r="3.31"/><circle cx="220.5" cy="536.7" r="3.29"/><circle cx="221.9" cy="536.3" r="3.26"/><circle cx="223.0" cy="535.9" r="3.24"/><circle cx="224.3" cy="535.3" r="3.21"/><circle cx="225.4" cy="534.8" r="3.18"/><circle cx="226.4" cy="534.3" r="3.11"/><circle cx="227.5" cy="533.7" r="3.05"/><circle cx="228.6" cy="533.1" r="2.99"/><circle cx="229.6" cy="532.5" r="2.92"/><circle cx="230.7" cy="531.8" r="2.80"/><circle cx="231.9" cy="531.1" r="2.64"/><circle cx="233.0" cy="530.3" r="2.48"/><circle cx="234.1" cy="529.6" r="2.33"/><circle cx="235.0" cy="529.0" r="2.20"/><circle cx="236.2" cy="528.3" r="1.97"/><circle cx="237.6" cy="527.7" r="1.73"/><circle cx="238.8" cy="527.4" r="1.63"/><circle cx="240.0" cy="527.2" r="1.60"/><circle cx="241.2" cy="527.1" r="1.57"/><circle cx="242.5" cy="527.0" r="1.54"/><circle cx="243.8" cy="527.0" r="1.52"/><circle cx="245.0" cy="527.2" r="1.50"/><circle cx="246.3" cy="527.5" r="1.46"/><circle cx="247.6" cy="527.9" r="1.41"/><circle cx="248.8" cy="528.3" r="1.35"/><circle cx="250.1" cy="528.8" r="1.26"/></g>
<g fill="#1c00ee" stroke="#140098" stroke-width="0.4"><circle cx="252.5" cy="530.3" r="0.95"/><circle cx="254.0" cy="531.4" r="0.95"/><circle cx="255.5" cy="532.4" r="0.95"/><circle cx="256.6" cy="533.1" r="0.95"/></g>
<g fill="#1c00ee" stroke="#140098" stroke-width="0.6"><circle cx="510.0" cy="538.7" r="0.90"/><circle cx="511.3" cy="538.6" r="0.98"/><circle cx="512.7" cy="538.6" r="1.06"/><circle cx="514.1" cy="538.5" r="1.15"/><circle cx="515.4" cy="538.3" r="1.23"/><circle cx="516.7" cy="538.1" r="1.32"/><circle cx="517.9" cy="537.7" r="1.40"/><circle cx="519.2" cy="537.5" r="1.49"/><circle cx="520.4" cy="537.4" r="1.58"/><circle cx="521.7" cy="537.4" r="1.67"/><circle cx="522.9" cy="537.6" r="1.75"/><circle cx="524.2" cy="537.8" r="1.84"/><circle cx="525.4" cy="538.1" r="1.95"/><circle cx="526.5" cy="538.5" r="2.12"/><circle cx="527.7" cy="539.0" r="2.28"/><circle cx="528.8" cy="539.5" r="2.44"/><circle cx="530.0" cy="539.9" r="2.60"/><circle cx="531.2" cy="540.3" r="2.69"/><circle cx="532.5" cy="540.6" r="2.78"/><circle cx="533.8" cy="541.0" r="2.86"/><circle cx="535.0" cy="541.3" r="2.95"/><circle cx="536.1" cy="541.6" r="3.03"/><circle cx="537.6" cy="542.0" r="3.13"/><circle cx="538.9" cy="542.3" r="3.22"/><circle cx="540.0" cy="542.5" r="3.30"/><circle cx="541.2" cy="542.7" r="3.32"/><circle cx="542.3" cy="542.9" r="3.35"/><circle cx="543.6" cy="543.1" r="3.37"/><circle cx="544.7" cy="543.2" r="3.39"/><circle cx="546.0" cy="543.3" r="3.42"/><circle cx="547.5" cy="543.5" r="3.45"/><circle cx="548.7" cy="543.6" r="3.47"/><circle cx="550.0" cy="543.7" r="3.50"/><circle cx="551.2" cy="543.8" r="3.50"/><circle cx="552.5" cy="543.9" r="3.50"/><circle cx="553.8" cy="544.0" r="3.50"/><circle cx="555.3" cy="544.1" r="3.50"/><circle cx="556.4" cy="544.2" r="3.50"/><circle cx="557.6" cy="544.2" r="3.50"/><circle cx="558.8" cy="544.3" r="3.50"/><circle cx="560.0" cy="544.4" r="3.50"/><circle cx="561.3" cy="544.5" r="3.50"/><circle cx="562.6" cy="544.5" r="3.50"/><circle cx="563.9" cy="544.6" r="3.50"/><circle cx="565.2" cy="544.7" r="3.50"/><circle cx="566.6" cy="544.8" r="3.50"/><circle cx="567.9" cy="544.8" r="3.50"/><circle cx="569.2" cy="544.9" r="3.50"/><circle cx="570.6" cy="545.0" r="3.50"/><circle cx="571.9" cy="545.0" r="3.50"/><circle cx="573.2" cy="545.1" r="3.50"/><circle cx="574.6" cy="545.2" r="3.50"/><circle cx="575.8" cy="545.2" r="3.49"/><circle cx="576.9" cy="545.3" r="3.49"/><circle cx="578.2" cy="545.3" r="3.48"/><circle cx="579.4" cy="545.4" r="3.47"/><circle cx="580.7" cy="545.5" r="3.46"/><circle cx="582.0" cy="545.5" r="3.45"/><circle cx="583.4" cy="545.6" r="3.44"/><circle cx="584.7" cy="545.6" r="3.43"/><circle cx="586.1" cy="545.7" r="3.42"/><circle cx="587.4" cy="545.7" r="3.41"/><circle cx="588.8" cy="545.8" r="3.41"/><circle cx="590.1" cy="545.8" r="3.40"/><circle cx="591.5" cy="545.9" r="3.39"/><circle cx="592.8" cy="545.9" r="3.38"/><circle cx="594.1" cy="546.0" r="3.37"/><circle cx="595.3" cy="546.0" r="3.36"/><circle cx="596.6" cy="546.0" r="3.35"/><circle cx="597.7" cy="546.1" r="3.34"/><circle cx="598.9" cy="546.1" r="3.34"/><circle cx="600.3" cy="546.2" r="3.33"/><circle cx="601.7" cy="546.2" r="3.32"/><circle cx="602.9" cy="546.3" r="3.31"/><circle cx="604.9" cy="546.3" r="3.30"/><circle cx="606.4" cy="546.4" r="3.30"/><circle cx="607.7" cy="546.4" r="3.30"/><circle cx="609.1" cy="546.5" r="3.30"/><circle cx="610.4" cy="546.5" r="3.30"/><circle cx="611.6" cy="546.5" r="3.30"/></g>
<g fill="#1c00ee" stroke="#140098" stroke-width="0.5"><circle cx="507.5" cy="539.7" r="1.10"/></g>
</g>
<rect x="77" y="281.8" width="528" height="276.9" fill="none" stroke="#111" stroke-width="1.8"/>
<text x="76.4" y="328.1" font-size="60" font-weight="bold">b</text>
<path d="M69.5,315.3 H77.0" stroke="#000" stroke-width="1.8"/>
<g transform="translate(64.60,321.30) scale(0.96,1.04) translate(-64.60,-321.30)"><text x="34.02" y="321.30" font-size="22" fill="#000">9.0</text></g>
<path d="M69.5,408.4 H77.0" stroke="#000" stroke-width="1.8"/>
<g transform="translate(64.60,414.40) scale(0.96,1.04) translate(-64.60,-414.40)"><text x="34.02" y="414.40" font-size="22" fill="#000">8.8</text></g>
<path d="M69.5,501.6 H77.0" stroke="#000" stroke-width="1.8"/>
<g transform="translate(64.60,507.60) scale(0.96,1.04) translate(-64.60,-507.60)"><text x="34.02" y="507.60" font-size="22" fill="#000">8.6</text></g>
<text transform="translate(23.3,409.8) rotate(-90)" font-size="26" text-anchor="middle">Lattice parameters (Å)</text>
<circle cx="322.5" cy="453.2" r="6.1" fill="#1b00e6" stroke="#10008a" stroke-width="1"/>
<path d="M316.6,473.2 L328.4,473.2 L322.5,484.6 Z" fill="#8ed2ec" stroke="#7a98ee" stroke-width="1.6" stroke-linejoin="round"/>
<rect x="316.6" y="496.0" width="11.6" height="11.2" fill="#f01a0a" stroke="#8e0f08" stroke-width="1.2"/>
<g font-size="21.4"><text transform="translate(333.4,461) scale(1,1.05)">BCT: <tspan font-style="italic">a</tspan><tspan dx="-1.8"> ×</tspan><tspan dx="-0.6"> √</tspan><tspan dx="-1.3">2</tspan></text><text transform="translate(333.4,486.5) scale(1,1.05)">BCT: <tspan font-style="italic" dx="-0.5">c</tspan></text><text transform="translate(333.4,510.2) scale(1,1.05)">FCC: <tspan font-style="italic" dx="-3">a</tspan></text></g>
<rect x="78.0" y="561.8" width="127.8" height="276.8" fill="#e2e2fd"/>
<rect x="205.8" y="561.8" width="51.1" height="276.8" fill="#e4cde8"/>
<rect x="256.9" y="561.8" width="251.1" height="276.8" fill="#f6e4e7"/>
<rect x="508.0" y="561.8" width="44.9" height="276.8" fill="#e4cde8"/>
<rect x="552.9" y="561.8" width="51.3" height="276.8" fill="#e2e2fd"/>
<g clip-path="url(#clipC)">
<path d="M77.0,826.4 L77.5,826.4 L78.1,826.4 L78.6,826.4 L79.2,826.4 L79.8,826.4 L80.5,826.4 L81.1,826.4 L81.8,826.4 L82.5,826.4 L83.2,826.4 L84.0,826.4 L84.7,826.4 L85.5,826.4 L86.3,826.4 L87.2,826.4 L88.0,826.4 L88.9,826.4 L89.8,826.4 L90.7,826.4 L91.6,826.4 L92.5,826.4 L93.5,826.4 L94.5,826.4 L95.4,826.4 L96.4,826.4 L97.5,826.4 L98.5,826.4 L99.5,826.4 L100.6,826.4 L101.7,826.4 L102.7,826.4 L103.8,826.4 L104.9,826.4 L106.0,826.4 L107.2,826.4 L108.3,826.4 L109.5,826.4 L110.6,826.4 L111.8,826.4 L112.9,826.4 L114.1,826.4 L115.3,826.4 L116.5,826.4 L117.7,826.4 L118.9,826.4 L120.1,826.4 L121.3,826.4 L122.6,826.4 L123.8,826.4 L125.0,826.4 L126.2,826.4 L127.5,826.4 L128.7,826.4 L130.0,826.4 L131.2,826.4 L132.4,826.4 L133.7,826.4 L134.9,826.4 L136.2,826.4 L137.4,826.4 L138.6,826.4 L139.9,826.4 L141.1,826.4 L142.4,826.4 L143.6,826.4 L144.8,826.4 L146.0,826.4 L147.3,826.4 L148.5,826.4 L149.7,826.4 L150.9,826.4 L152.1,826.4 L153.3,826.4 L154.4,826.4 L155.6,826.4 L156.8,826.4 L157.9,826.4 L159.1,826.4 L160.2,826.4 L161.3,826.4 L162.5,826.4 L163.6,826.4 L164.7,826.4 L165.7,826.4 L166.8,826.4 L167.9,826.4 L168.9,826.4 L170.0,826.4 L171.0,826.4 L172.0,826.4 L173.0,826.4 L173.9,826.4 L174.9,826.4 L175.8,826.4 L176.8,826.4 L177.7,826.4 L178.6,826.4 L179.4,826.4 L180.3,826.4 L181.1,826.4 L181.9,826.4 L182.7,826.4 L183.5,826.4 L184.2,826.4 L185.0,826.4 L185.7,826.4 L186.4,826.4 L187.0,826.4 L187.7,826.4 L188.3,826.4 L188.9,826.4 L189.5,826.4 L190.0,826.4 L196.6,826.4 L199.8,826.3 L200.5,826.3 L199.7,826.3 L198.3,826.2 L197.1,826.1 L197.0,826.0 L198.3,825.8 L199.4,825.5 L200.4,825.2 L201.5,824.6 L202.2,824.1 L203.0,823.5 L203.7,822.9 L204.4,822.1 L205.1,821.3 L205.8,820.4 L206.3,819.8 L206.7,819.2 L207.2,818.6 L207.6,818.0 L208.1,817.2 L208.5,816.2 L209.0,814.9 L209.6,813.2 L209.8,812.5 L210.0,811.8 L210.2,811.1 L210.4,810.3 L210.6,809.5 L210.8,808.6 L211.1,807.7 L211.3,806.8 L211.5,805.8 L211.7,804.8 L211.9,803.8 L212.2,802.8 L212.4,801.8 L212.7,800.7 L212.9,799.6 L213.1,798.5 L213.4,797.4 L213.6,796.3 L213.9,795.2 L214.1,794.1 L214.4,793.0 L214.7,791.8 L214.9,790.7 L215.2,789.6 L215.4,788.7 L215.6,787.8 L215.9,786.9 L216.1,786.0 L216.3,785.1 L216.6,784.2 L216.8,783.3 L217.0,782.3 L217.3,781.4 L217.5,780.5 L217.8,779.5 L218.0,778.6 L218.3,777.6 L218.5,776.6 L218.8,775.7 L219.0,774.7 L219.3,773.7 L219.6,772.7 L219.8,771.7 L220.1,770.6 L220.3,769.6 L220.6,768.6 L220.8,767.5 L221.1,766.4 L221.3,765.3 L221.6,764.2 L221.8,763.1 L222.0,762.0 L222.3,760.9 L222.5,759.7 L222.7,758.8 L222.8,758.0 L223.0,757.1 L223.2,756.2 L223.4,755.3 L223.5,754.4 L223.7,753.5 L223.9,752.6 L224.1,751.7 L224.2,750.8 L224.4,749.9 L224.6,749.0 L224.7,748.1 L224.9,747.2 L225.1,746.3 L225.3,745.3 L225.4,744.4 L225.6,743.4 L225.8,742.5 L225.9,741.5 L226.1,740.5 L226.3,739.5 L226.4,738.5 L226.6,737.5 L226.7,736.5 L226.9,735.5 L227.1,734.4 L227.2,733.4 L227.4,732.3 L227.5,731.3 L227.7,730.2 L227.8,729.1 L228.0,728.0 L228.1,726.9 L228.3,725.7 L228.4,724.6 L228.6,723.4 L228.7,722.2 L228.9,721.0 L229.0,719.8 L229.1,718.9 L229.2,718.1 L229.3,717.2 L229.4,716.2 L229.5,715.3 L229.6,714.4 L229.7,713.4 L229.7,712.4 L229.8,711.4 L229.9,710.4 L230.0,709.4 L230.1,708.4 L230.2,707.4 L230.3,706.4 L230.4,705.3 L230.4,704.2 L230.5,703.2 L230.6,702.1 L230.7,701.0 L230.8,700.0 L230.9,698.9 L230.9,697.8 L231.0,696.7 L231.1,695.6 L231.2,694.5 L231.3,693.4 L231.3,692.3 L231.4,691.2 L231.5,690.1 L231.6,689.0 L231.6,687.9 L231.7,686.8 L231.8,685.7 L231.9,684.6 L231.9,683.5 L232.0,682.4 L232.1,681.4 L232.2,680.3 L232.2,679.2 L232.3,678.2 L232.4,677.1 L232.5,676.1 L232.5,675.1 L232.6,674.0 L232.7,673.0 L232.7,672.0 L232.8,671.0 L232.9,670.1 L232.9,669.1 L233.0,668.2 L233.1,667.2 L233.2,666.3 L233.2,665.4 L233.3,664.5 L233.4,663.7 L233.4,662.8 L233.5,662.0 L233.6,660.7 L233.7,659.4 L233.8,658.1 L233.9,656.8 L234.0,655.6 L234.1,654.4 L234.2,653.2 L234.3,652.0 L234.4,650.8 L234.5,649.7 L234.6,648.5 L234.7,647.4 L234.8,646.3 L234.9,645.3 L235.0,644.2 L235.1,643.2 L235.2,642.1 L235.3,641.1 L235.4,640.1 L235.5,639.2 L235.6,638.2 L235.7,637.3 L235.8,636.3 L235.8,635.4 L235.9,634.5 L236.0,633.6 L236.1,632.8 L236.2,631.9 L236.3,631.1 L236.4,630.3 L236.5,629.4 L236.5,628.6 L236.6,627.8 L236.7,627.1 L236.8,626.3 L237.0,624.8 L237.1,623.4 L237.3,622.1 L237.4,620.9 L237.6,619.7 L237.7,618.6 L237.9,617.6 L238.0,616.7 L238.1,615.7 L238.3,614.8 L238.4,614.0 L238.6,613.1 L238.8,612.3 L239.0,611.4 L239.2,610.6 L239.4,609.7 L239.6,608.8 L239.9,607.7 L240.2,606.6 L240.6,605.5 L241.0,604.5 L241.4,603.4 L241.8,602.4 L242.2,601.4 L242.6,600.4 L243.0,599.5 L243.4,598.5 L243.8,597.6 L244.2,596.7 L244.6,595.8 L244.9,594.9 L245.3,593.8 L245.7,592.7 L246.1,591.7 L246.5,590.6 L246.9,589.6 L247.2,588.6 L247.6,587.7 L248.0,586.8 L248.3,585.9 L248.7,585.1 L249.0,584.4 L249.6,583.2 L250.2,582.1 L250.8,581.3 L251.4,580.5 L251.9,579.8 L252.5,579.1 L253.4,578.2 L254.2,577.6 L255.1,577.1 L256.0,576.6 L257.1,576.1 L258.2,575.7 L259.5,575.3 L260.1,575.1 L260.3,574.9 L260.9,574.7 L262.3,574.5 L265.4,574.4 L266.0,574.4 L266.6,574.4 L267.2,574.4 L267.8,574.4 L268.3,574.4 L268.9,574.4 L269.6,574.4 L270.2,574.4 L270.8,574.4 L271.5,574.4 L272.2,574.4 L272.9,574.4 L273.6,574.4 L274.3,574.4 L275.1,574.4 L276.0,574.4 L276.8,574.4 L277.7,574.4 L278.7,574.4 L279.7,574.4 L280.7,574.4 L281.8,574.4 L282.9,574.4 L284.2,574.4 L285.4,574.4 L286.8,574.5 L288.1,574.5 L289.6,574.5 L291.1,574.5 L292.8,574.5 L294.4,574.5 L296.2,574.5 L298.1,574.5 L300.0,574.5 L300.7,574.5 L301.4,574.5 L302.1,574.5 L302.8,574.5 L303.5,574.5 L304.3,574.5 L305.0,574.5 L305.8,574.5 L306.6,574.5 L307.4,574.5 L308.2,574.5 L309.0,574.5 L309.8,574.5 L310.6,574.5 L311.5,574.5 L312.3,574.5 L313.2,574.5 L314.0,574.5 L314.9,574.5 L315.8,574.5 L316.7,574.5 L317.6,574.5 L318.5,574.5 L319.5,574.5 L320.4,574.5 L321.3,574.5 L322.3,574.5 L323.3,574.5 L324.2,574.5 L325.2,574.5 L326.2,574.5 L327.2,574.5 L328.2,574.5 L329.2,574.5 L330.2,574.6 L331.2,574.6 L332.2,574.6 L333.2,574.6 L334.3,574.6 L335.3,574.6 L336.3,574.6 L337.4,574.6 L338.4,574.6 L339.5,574.6 L340.5,574.6 L341.6,574.6 L342.7,574.6 L343.8,574.6 L344.8,574.6 L345.9,574.6 L347.0,574.6 L348.1,574.6 L349.2,574.6 L350.3,574.6 L351.4,574.6 L352.5,574.6 L353.6,574.6 L354.7,574.6 L355.8,574.6 L356.9,574.6 L358.0,574.6 L359.1,574.6 L360.2,574.6 L361.3,574.6 L362.4,574.6 L363.5,574.6 L364.6,574.6 L365.7,574.6 L366.8,574.6 L367.9,574.6 L369.0,574.6 L370.2,574.6 L371.3,574.6 L372.4,574.6 L373.5,574.6 L374.6,574.6 L375.7,574.6 L376.8,574.6 L377.9,574.6 L379.0,574.6 L380.0,574.6 L381.1,574.6 L382.2,574.6 L383.3,574.6 L384.4,574.6 L385.4,574.6 L386.5,574.6 L387.6,574.6 L388.6,574.6 L389.7,574.6 L390.8,574.6 L391.8,574.6 L392.9,574.6 L393.9,574.6 L394.9,574.6 L395.9,574.6 L397.0,574.6 L398.0,574.6 L399.0,574.6 L400.0,574.6 L401.0,574.6 L402.0,574.6 L403.0,574.6 L404.1,574.6 L405.1,574.6 L406.2,574.6 L407.2,574.6 L408.3,574.6 L409.4,574.6 L410.4,574.6 L411.5,574.6 L412.6,574.6 L413.7,574.6 L414.8,574.6 L415.9,574.6 L417.0,574.6 L418.2,574.6 L419.3,574.6 L420.4,574.6 L421.5,574.6 L422.7,574.5 L423.8,574.5 L425.0,574.5 L426.1,574.5 L427.2,574.5 L428.4,574.5 L429.6,574.5 L430.7,574.5 L431.9,574.5 L433.0,574.5 L434.2,574.5 L435.3,574.5 L436.5,574.5 L437.7,574.5 L438.8,574.5 L440.0,574.5 L441.1,574.5 L442.3,574.5 L443.5,574.5 L444.6,574.5 L445.8,574.5 L446.9,574.5 L448.1,574.5 L449.2,574.5 L450.3,574.4 L451.5,574.4 L452.6,574.4 L453.8,574.4 L454.9,574.4 L456.0,574.4 L457.1,574.4 L458.2,574.4 L459.3,574.4 L460.4,574.4 L461.5,574.4 L462.6,574.4 L463.7,574.4 L464.8,574.4 L465.9,574.4 L466.9,574.4 L468.0,574.4 L469.0,574.4 L470.0,574.4 L471.1,574.4 L472.1,574.4 L473.1,574.4 L474.1,574.4 L475.1,574.4 L476.1,574.3 L477.1,574.3 L478.0,574.3 L479.0,574.3 L479.9,574.3 L480.8,574.3 L481.8,574.3 L482.7,574.3 L483.5,574.3 L484.4,574.3 L485.3,574.3 L486.1,574.3 L487.0,574.3 L487.8,574.3 L488.6,574.3 L489.4,574.3 L490.2,574.3 L491.0,574.3 L491.7,574.3 L492.5,574.3 L493.2,574.3 L493.9,574.3 L494.6,574.3 L495.3,574.3 L495.9,574.3 L496.5,574.3 L497.2,574.3 L497.8,574.3 L498.4,574.3 L498.9,574.3 L499.5,574.3 L500.0,574.3 L507.8,574.3 L508.0,574.4 L505.3,574.6 L504.0,574.8 L505.1,575.2 L506.2,575.7 L507.5,576.6 L508.2,577.2 L508.9,577.8 L509.6,578.6 L510.4,579.4 L511.1,580.3 L511.9,581.3 L512.6,582.3 L513.1,583.1 L513.5,583.8 L514.0,584.7 L514.5,585.5 L514.9,586.4 L515.3,587.3 L515.8,588.3 L516.2,589.3 L516.6,590.4 L517.0,591.6 L517.3,592.4 L517.5,593.3 L517.8,594.2 L518.0,595.1 L518.3,596.0 L518.5,597.0 L518.7,598.0 L519.0,599.0 L519.2,600.0 L519.4,601.1 L519.6,602.1 L519.8,603.1 L520.1,604.2 L520.3,605.3 L520.5,606.3 L520.7,607.3 L520.9,608.3 L521.1,609.2 L521.3,610.2 L521.5,611.2 L521.6,612.2 L521.8,613.2 L522.0,614.2 L522.2,615.3 L522.4,616.3 L522.6,617.4 L522.7,618.5 L522.9,619.6 L523.1,620.7 L523.3,621.8 L523.5,623.0 L523.7,623.9 L523.8,624.8 L524.0,625.7 L524.1,626.7 L524.3,627.6 L524.4,628.5 L524.6,629.5 L524.7,630.5 L524.9,631.4 L525.0,632.4 L525.2,633.4 L525.3,634.4 L525.5,635.4 L525.7,636.5 L525.8,637.5 L526.0,638.6 L526.1,639.7 L526.3,640.8 L526.5,641.9 L526.6,643.0 L526.8,644.2 L526.9,645.1 L527.0,645.9 L527.2,646.8 L527.3,647.7 L527.4,648.5 L527.5,649.4 L527.6,650.2 L527.7,651.1 L527.9,652.0 L528.0,652.9 L528.1,653.7 L528.2,654.6 L528.3,655.6 L528.5,656.5 L528.6,657.4 L528.7,658.4 L528.8,659.4 L529.0,660.4 L529.1,661.4 L529.2,662.5 L529.4,663.5 L529.5,664.7 L529.6,665.8 L529.8,667.0 L529.9,668.2 L530.1,669.4 L530.2,670.7 L530.4,672.0 L530.5,672.8 L530.6,673.7 L530.7,674.5 L530.8,675.4 L530.9,676.4 L531.0,677.3 L531.2,678.3 L531.3,679.3 L531.4,680.3 L531.5,681.3 L531.6,682.4 L531.8,683.5 L531.9,684.5 L532.0,685.6 L532.1,686.8 L532.3,687.9 L532.4,689.0 L532.5,690.1 L532.7,691.3 L532.8,692.4 L532.9,693.6 L533.1,694.7 L533.2,695.8 L533.3,697.0 L533.5,698.1 L533.6,699.3 L533.7,700.4 L533.9,701.5 L534.0,702.6 L534.1,703.7 L534.2,704.8 L534.4,705.8 L534.5,706.9 L534.6,707.9 L534.7,708.9 L534.9,709.9 L535.0,710.9 L535.1,711.8 L535.2,712.8 L535.3,713.6 L535.4,714.5 L535.5,715.3 L535.6,716.1 L535.7,716.9 L535.8,717.6 L535.9,718.3 L536.0,719.0 L536.3,721.1 L536.5,722.7 L536.8,723.9 L537.0,724.9 L537.1,725.6 L537.3,726.2 L537.5,726.7 L537.6,727.2 L537.8,727.8 L537.9,728.5 L538.1,729.4 L538.3,730.6 L538.5,732.1 L538.6,732.8 L538.7,733.6 L538.8,734.4 L538.9,735.2 L539.0,736.1 L539.1,736.9 L539.2,737.9 L539.3,738.8 L539.4,739.7 L539.5,740.7 L539.7,741.7 L539.8,742.7 L539.9,743.8 L540.0,744.8 L540.1,745.9 L540.2,747.0 L540.3,748.0 L540.5,749.1 L540.6,750.2 L540.7,751.3 L540.8,752.4 L540.9,753.5 L541.0,754.6 L541.2,755.7 L541.3,756.8 L541.4,757.9 L541.5,759.0 L541.6,760.1 L541.8,761.1 L541.9,762.2 L542.0,763.2 L542.1,764.2 L542.2,765.2 L542.3,766.2 L542.4,767.3 L542.6,768.3 L542.7,769.4 L542.8,770.5 L542.9,771.5 L543.0,772.6 L543.1,773.7 L543.3,774.8 L543.4,775.9 L543.5,777.0 L543.6,778.1 L543.7,779.2 L543.9,780.2 L544.0,781.3 L544.1,782.4 L544.2,783.4 L544.3,784.5 L544.4,785.5 L544.6,786.5 L544.7,787.5 L544.8,788.5 L544.9,789.5 L545.0,790.4 L545.1,791.4 L545.2,792.3 L545.4,793.1 L545.5,794.0 L545.6,794.8 L545.7,795.6 L545.8,796.4 L546.0,797.9 L546.2,799.2 L546.4,800.5 L546.6,801.7 L546.8,802.9 L547.0,803.9 L547.2,804.9 L547.4,805.9 L547.6,806.8 L547.8,807.7 L548.0,808.5 L548.2,809.3 L548.4,810.1 L548.6,810.9 L548.8,811.6 L549.0,812.4 L549.4,813.8 L549.8,815.1 L550.1,816.2 L550.5,817.1 L550.9,818.0 L551.2,818.9 L551.6,819.7 L552.0,820.5 L552.6,821.7 L553.3,822.9 L553.9,823.9 L554.6,824.7 L555.4,825.4 L555.5,825.9 L555.2,826.2 L556.1,826.3 L560.0,826.4 L560.6,826.4 L561.2,826.4 L561.9,826.4 L562.7,826.4 L563.5,826.4 L564.3,826.5 L565.3,826.5 L566.2,826.5 L567.2,826.5 L568.2,826.5 L569.3,826.5 L570.3,826.5 L571.5,826.5 L572.6,826.5 L573.8,826.5 L575.0,826.5 L576.1,826.5 L577.4,826.5 L578.6,826.5 L579.8,826.5 L581.1,826.5 L582.3,826.5 L583.5,826.5 L584.8,826.5 L586.0,826.5 L587.2,826.4 L588.4,826.4 L589.6,826.4 L590.7,826.4 L591.9,826.4 L593.0,826.4 L594.1,826.4 L595.2,826.4 L596.2,826.4 L597.2,826.4 L598.1,826.4 L599.1,826.4 L599.9,826.4 L600.7,826.4 L601.5,826.4 L602.2,826.4 L602.9,826.4 L603.5,826.4 L604.0,826.4" fill="none" stroke="#f0861e" stroke-width="3.2" stroke-dasharray="10.2 4.6" stroke-linejoin="round"/>
<g fill="#ec1e0c" stroke="#8a0c06" stroke-width="0.8"><path d="M203.0,641.2L206.0,641.2L204.5,643.8Z"/><path d="M204.9,642.2L208.3,642.2L206.6,645.1Z"/><path d="M206.8,643.0L210.5,643.0L208.7,646.2Z"/><path d="M208.7,643.6L213.0,643.6L210.9,647.3Z"/><path d="M210.9,643.9L215.8,643.9L213.4,648.0Z"/><path d="M213.1,643.7L218.5,643.7L215.8,648.3Z"/><path d="M215.3,643.2L221.4,643.2L218.4,648.3Z"/><path d="M217.5,642.6L224.1,642.6L220.8,648.3Z"/><path d="M219.5,642.0L226.7,642.0L223.1,648.1Z"/><path d="M221.5,641.1L229.3,641.1L225.4,647.7Z"/><path d="M223.6,640.2L231.9,640.2L227.8,647.3Z"/><path d="M225.8,639.2L234.6,639.2L230.2,646.7Z"/><path d="M227.9,638.1L237.3,638.1L232.6,646.1Z"/><path d="M229.9,637.0L239.8,637.0L234.8,645.5Z"/><path d="M231.8,635.7L242.6,635.7L237.2,644.9Z"/><path d="M233.5,634.3L245.1,634.3L239.3,644.2Z"/><path d="M235.4,633.2L247.2,633.2L241.3,643.2Z"/><path d="M237.6,631.8L249.4,631.8L243.5,641.8Z"/><path d="M239.6,630.6L251.4,630.6L245.5,640.6Z"/><path d="M241.7,629.3L253.5,629.3L247.6,639.3Z"/><path d="M243.7,628.0L255.5,628.0L249.6,638.0Z"/><path d="M245.8,626.6L257.6,626.6L251.7,636.7Z"/><path d="M247.7,625.4L259.5,625.4L253.6,635.4Z"/><path d="M249.6,624.2L261.4,624.2L255.5,634.2Z"/><path d="M251.7,622.9L263.5,622.9L257.6,632.9Z"/><path d="M253.7,621.5L265.5,621.5L259.6,631.5Z"/><path d="M255.7,620.1L267.5,620.1L261.6,630.1Z"/><path d="M257.9,618.7L269.7,618.7L263.8,628.7Z"/><path d="M259.9,617.3L271.7,617.3L265.8,627.3Z"/><path d="M261.9,615.9L273.7,615.9L267.8,626.0Z"/><path d="M263.8,614.7L275.6,614.7L269.7,624.7Z"/><path d="M265.9,613.3L277.7,613.3L271.8,623.3Z"/><path d="M268.0,611.9L279.8,611.9L273.9,621.9Z"/><path d="M270.1,610.5L281.9,610.5L276.0,620.6Z"/><path d="M272.2,609.1L284.0,609.1L278.1,619.1Z"/><path d="M274.1,607.9L285.9,607.9L280.0,617.9Z"/><path d="M276.0,606.6L287.8,606.6L281.9,616.7Z"/><path d="M278.2,605.2L290.0,605.2L284.1,615.3Z"/><path d="M280.1,604.0L291.9,604.0L286.0,614.0Z"/><path d="M282.2,602.6L294.0,602.6L288.1,612.6Z"/><path d="M284.4,601.2L296.2,601.2L290.3,611.2Z"/><path d="M286.6,599.8L298.4,599.8L292.5,609.8Z"/><path d="M288.8,598.4L300.6,598.4L294.7,608.4Z"/><path d="M291.0,597.0L302.8,597.0L296.9,607.0Z"/><path d="M293.1,595.6L304.9,595.6L299.0,605.7Z"/><path d="M295.1,594.3L306.9,594.3L301.0,604.3Z"/><path d="M297.3,593.0L309.1,593.0L303.2,603.0Z"/><path d="M299.5,591.6L311.3,591.6L305.4,601.6Z"/><path d="M301.8,590.2L313.6,590.2L307.7,600.2Z"/><path d="M304.0,588.8L315.8,588.8L309.9,598.8Z"/><path d="M306.2,587.4L318.0,587.4L312.1,597.5Z"/><path d="M308.3,586.1L320.1,586.1L314.2,596.1Z"/><path d="M310.3,584.9L322.1,584.9L316.2,594.9Z"/><path d="M312.4,583.5L324.2,583.5L318.3,593.5Z"/><path d="M314.6,582.2L326.4,582.2L320.5,592.2Z"/><path d="M316.9,580.7L328.6,580.7L322.8,590.7Z"/><path d="M318.9,579.5L330.5,579.5L324.7,589.4Z"/><path d="M320.8,578.3L332.4,578.3L326.6,588.1Z"/><path d="M322.9,577.0L334.4,577.0L328.6,586.8Z"/><path d="M325.2,575.7L336.6,575.7L330.9,585.4Z"/><path d="M327.1,574.5L338.5,574.5L332.8,584.2Z"/><path d="M329.1,573.5L340.4,573.5L334.7,583.1Z"/><path d="M331.4,572.6L342.5,572.6L336.9,582.1Z"/><path d="M333.8,572.1L344.9,572.1L339.3,581.5Z"/></g>
<g fill="#da1c0c" stroke="#8e0e07" stroke-width="0.8"><path d="M335.5,571.8L346.5,571.8L341.0,581.2Z"/><path d="M337.2,571.9L348.2,571.9L342.7,581.2Z"/><path d="M339.0,572.1L350.0,572.1L344.5,581.4Z"/><path d="M340.8,572.5L351.8,572.5L346.3,581.9Z"/><path d="M342.6,573.2L353.6,573.2L348.1,582.5Z"/><path d="M343.9,573.9L354.9,573.9L349.4,583.2Z"/><path d="M345.4,574.8L356.5,574.8L351.0,584.2Z"/><path d="M346.8,575.7L358.0,575.7L352.4,585.2Z"/><path d="M348.1,576.6L359.4,576.6L353.8,586.2Z"/><path d="M349.4,577.5L360.7,577.5L355.0,587.1Z"/><path d="M350.8,578.5L362.2,578.5L356.5,588.2Z"/><path d="M352.1,579.3L363.6,579.3L357.9,589.1Z"/><path d="M353.6,580.3L365.2,580.3L359.4,590.1Z"/><path d="M354.9,581.1L366.6,581.1L360.8,591.0Z"/><path d="M356.3,582.0L368.0,582.0L362.1,591.9Z"/><path d="M357.9,583.0L369.5,583.0L363.7,592.9Z"/><path d="M359.2,583.8L370.8,583.8L365.0,593.7Z"/><path d="M360.6,584.7L372.2,584.7L366.4,594.6Z"/><path d="M362.0,585.6L373.7,585.6L367.8,595.5Z"/><path d="M363.5,586.5L375.2,586.5L369.3,596.4Z"/><path d="M365.0,587.4L376.7,587.4L370.8,597.4Z"/><path d="M366.5,588.4L378.2,588.4L372.4,598.3Z"/><path d="M368.1,589.3L379.8,589.3L373.9,599.3Z"/><path d="M369.6,590.3L381.3,590.3L375.5,600.2Z"/><path d="M371.1,591.2L382.8,591.2L377.0,601.2Z"/><path d="M372.6,592.1L384.3,592.1L378.5,602.1Z"/><path d="M374.0,593.0L385.8,593.0L379.9,603.0Z"/><path d="M375.4,593.8L387.2,593.8L381.3,603.8Z"/><path d="M376.7,594.6L388.5,594.6L382.6,604.7Z"/><path d="M378.3,595.6L390.0,595.6L384.1,605.6Z"/><path d="M379.6,596.4L391.4,596.4L385.5,606.4Z"/><path d="M380.9,597.1L392.7,597.1L386.8,607.2Z"/><path d="M382.4,598.1L394.2,598.1L388.3,608.1Z"/><path d="M383.9,598.9L395.7,598.9L389.8,608.9Z"/><path d="M385.2,599.6L397.0,599.6L391.1,609.7Z"/><path d="M386.8,600.5L398.6,600.5L392.7,610.5Z"/><path d="M388.3,601.4L400.1,601.4L394.2,611.4Z"/><path d="M389.8,602.2L401.6,602.2L395.7,612.3Z"/><path d="M391.1,603.0L402.9,603.0L397.0,613.0Z"/><path d="M392.6,603.8L404.4,603.8L398.5,613.8Z"/><path d="M394.1,604.7L405.9,604.7L400.0,614.7Z"/><path d="M395.6,605.6L407.4,605.6L401.5,615.6Z"/><path d="M397.3,606.5L409.1,606.5L403.2,616.6Z"/><path d="M398.6,607.3L410.4,607.3L404.5,617.3Z"/><path d="M399.9,608.1L411.7,608.1L405.8,618.1Z"/><path d="M401.3,608.9L413.1,608.9L407.2,619.0Z"/><path d="M402.7,609.8L414.5,609.8L408.6,619.8Z"/><path d="M404.1,610.6L415.9,610.6L410.0,620.6Z"/><path d="M405.6,611.5L417.4,611.5L411.5,621.5Z"/><path d="M407.0,612.3L418.8,612.3L412.9,622.3Z"/><path d="M408.4,613.2L420.2,613.2L414.3,623.2Z"/><path d="M409.9,614.0L421.7,614.0L415.8,624.1Z"/><path d="M411.3,614.9L423.1,614.9L417.2,624.9Z"/><path d="M412.7,615.7L424.5,615.7L418.6,625.8Z"/><path d="M414.1,616.6L425.9,616.6L420.0,626.6Z"/><path d="M415.5,617.4L427.3,617.4L421.4,627.5Z"/><path d="M416.9,618.3L428.7,618.3L422.8,628.3Z"/><path d="M418.2,619.1L430.0,619.1L424.1,629.1Z"/><path d="M419.6,620.0L431.4,620.0L425.5,630.0Z"/><path d="M421.0,620.8L432.8,620.8L426.9,630.9Z"/><path d="M422.4,621.7L434.2,621.7L428.3,631.7Z"/><path d="M423.8,622.5L435.6,622.5L429.7,632.6Z"/><path d="M425.1,623.4L436.9,623.4L431.0,633.4Z"/><path d="M426.5,624.3L438.3,624.3L432.4,634.3Z"/><path d="M427.9,625.1L439.7,625.1L433.8,635.2Z"/><path d="M429.3,626.0L441.1,626.0L435.2,636.0Z"/><path d="M430.7,626.8L442.5,626.8L436.6,636.9Z"/><path d="M432.0,627.7L443.8,627.7L437.9,637.7Z"/><path d="M433.4,628.6L445.2,628.6L439.3,638.6Z"/><path d="M434.8,629.4L446.6,629.4L440.7,639.4Z"/><path d="M436.2,630.2L448.0,630.2L442.1,640.3Z"/><path d="M437.5,631.1L449.3,631.1L443.4,641.1Z"/><path d="M438.9,631.9L450.7,631.9L444.8,642.0Z"/><path d="M440.3,632.8L452.1,632.8L446.2,642.8Z"/><path d="M441.7,633.6L453.5,633.6L447.6,643.6Z"/><path d="M443.1,634.4L454.9,634.4L449.0,644.5Z"/><path d="M444.4,635.3L456.2,635.3L450.3,645.3Z"/><path d="M445.8,636.1L457.6,636.1L451.7,646.1Z"/><path d="M447.2,637.0L459.0,637.0L453.1,647.0Z"/><path d="M448.6,637.8L460.4,637.8L454.5,647.8Z"/><path d="M450.0,638.6L461.8,638.6L455.9,648.7Z"/><path d="M451.3,639.5L463.1,639.5L457.2,649.5Z"/><path d="M452.7,640.3L464.5,640.3L458.6,650.4Z"/><path d="M454.1,641.2L465.9,641.2L460.0,651.2Z"/><path d="M455.5,642.0L467.3,642.0L461.4,652.1Z"/><path d="M456.8,642.9L468.6,642.9L462.7,652.9Z"/><path d="M458.2,643.7L470.0,643.7L464.1,653.8Z"/><path d="M459.5,644.6L471.3,644.6L465.4,654.6Z"/><path d="M460.9,645.5L472.7,645.5L466.8,655.5Z"/><path d="M462.2,646.4L474.0,646.4L468.1,656.4Z"/><path d="M463.6,647.2L475.4,647.2L469.5,657.3Z"/><path d="M464.9,648.1L476.7,648.1L470.8,658.1Z"/><path d="M466.3,649.0L478.1,649.0L472.2,659.0Z"/><path d="M467.7,649.8L479.5,649.8L473.6,659.9Z"/><path d="M469.0,650.7L480.8,650.7L474.9,660.7Z"/><path d="M470.4,651.5L482.2,651.5L476.3,661.6Z"/><path d="M471.7,652.4L483.5,652.4L477.6,662.4Z"/><path d="M473.1,653.2L484.9,653.2L479.0,663.2Z"/><path d="M474.5,654.0L486.3,654.0L480.4,664.0Z"/><path d="M475.9,654.8L487.7,654.8L481.8,664.9Z"/><path d="M477.4,655.7L489.2,655.7L483.3,665.7Z"/><path d="M478.9,656.6L490.7,656.6L484.8,666.6Z"/><path d="M480.5,657.4L492.2,657.4L486.3,667.4Z"/><path d="M482.0,658.3L493.7,658.3L487.9,668.2Z"/><path d="M483.5,659.1L495.2,659.1L489.4,669.1Z"/><path d="M485.0,659.9L496.7,659.9L490.9,669.9Z"/><path d="M486.5,660.8L498.2,660.8L492.4,670.7Z"/><path d="M488.0,661.5L499.6,661.5L493.8,671.4Z"/><path d="M489.4,662.3L501.0,662.3L495.2,672.2Z"/><path d="M490.8,663.0L502.4,663.0L496.6,672.9Z"/><path d="M492.4,663.8L504.0,663.8L498.2,673.7Z"/><path d="M493.9,664.6L505.5,664.6L499.7,674.5Z"/><path d="M495.7,665.5L507.2,665.5L501.4,675.3Z"/><path d="M497.5,666.4L509.0,666.4L503.2,676.1Z"/><path d="M499.2,667.1L510.6,667.1L504.9,676.8Z"/><path d="M500.7,667.8L512.1,667.8L506.4,677.5Z"/><path d="M502.1,668.4L513.5,668.4L507.8,678.0Z"/><path d="M503.8,669.1L515.1,669.1L509.5,678.6Z"/><path d="M505.4,669.7L516.7,669.7L511.1,679.2Z"/><path d="M506.9,670.2L518.1,670.2L512.5,679.7Z"/><path d="M508.7,670.8L519.9,670.8L514.3,680.3Z"/><path d="M510.3,671.3L521.4,671.3L515.9,680.7Z"/><path d="M511.8,671.7L522.9,671.7L517.4,681.1Z"/><path d="M513.3,672.0L524.4,672.0L518.8,681.4Z"/><path d="M514.9,672.3L525.9,672.3L520.4,681.6Z"/><path d="M516.6,672.6L527.4,672.6L522.0,681.7Z"/><path d="M518.4,672.8L528.9,672.8L523.7,681.8Z"/><path d="M520.1,673.0L530.4,673.0L525.3,681.8Z"/><path d="M521.8,673.1L531.9,673.1L526.9,681.7Z"/><path d="M523.5,673.3L533.4,673.3L528.4,681.7Z"/><path d="M525.4,673.4L534.9,673.4L530.1,681.5Z"/><path d="M527.2,673.5L536.3,673.5L531.8,681.3Z"/><path d="M529.0,673.6L537.8,673.6L533.4,681.1Z"/><path d="M530.8,673.6L539.2,673.6L535.0,680.8Z"/><path d="M532.8,673.7L540.6,673.7L536.7,680.4Z"/><path d="M534.7,673.8L542.0,673.8L538.4,679.9Z"/><path d="M536.7,673.8L543.4,673.8L540.0,679.5Z"/><path d="M538.5,673.8L544.7,673.8L541.6,679.0Z"/><path d="M540.5,673.8L546.0,673.8L543.3,678.5Z"/><path d="M542.4,673.8L547.4,673.8L544.9,678.0Z"/><path d="M544.3,673.8L548.7,673.8L546.5,677.5Z"/><path d="M546.1,673.7L549.9,673.7L548.0,676.9Z"/><path d="M548.2,673.4L551.4,673.4L549.8,676.1Z"/><path d="M550.3,673.1L552.9,673.1L551.6,675.3Z"/><path d="M552.2,672.8L554.2,672.8L553.2,674.5Z"/></g>
<g fill="#1c00ee" stroke="#140098" stroke-width="0.7"><circle cx="70.0" cy="802.0" r="5.20"/><circle cx="71.4" cy="801.7" r="5.20"/><circle cx="72.8" cy="801.4" r="5.20"/><circle cx="74.1" cy="801.0" r="5.20"/><circle cx="75.7" cy="800.6" r="5.20"/><circle cx="77.0" cy="800.2" r="5.20"/><circle cx="78.4" cy="799.8" r="5.20"/><circle cx="79.7" cy="799.4" r="5.20"/><circle cx="81.2" cy="798.9" r="5.20"/><circle cx="82.7" cy="798.4" r="5.20"/><circle cx="83.8" cy="798.1" r="5.20"/><circle cx="85.0" cy="797.7" r="5.20"/><circle cx="86.3" cy="797.3" r="5.20"/><circle cx="87.5" cy="796.9" r="5.20"/><circle cx="88.8" cy="796.5" r="5.20"/><circle cx="90.1" cy="796.1" r="5.20"/><circle cx="91.3" cy="795.7" r="5.20"/><circle cx="92.6" cy="795.3" r="5.20"/><circle cx="93.8" cy="795.0" r="5.20"/><circle cx="95.0" cy="794.6" r="5.20"/><circle cx="96.5" cy="794.1" r="5.19"/><circle cx="97.7" cy="793.8" r="5.19"/><circle cx="98.9" cy="793.5" r="5.18"/><circle cx="100.0" cy="793.1" r="5.17"/><circle cx="101.2" cy="792.8" r="5.17"/><circle cx="102.4" cy="792.4" r="5.16"/><circle cx="103.6" cy="792.1" r="5.15"/><circle cx="104.8" cy="791.8" r="5.15"/><circle cx="106.0" cy="791.4" r="5.14"/><circle cx="107.2" cy="791.1" r="5.14"/><circle cx="108.4" cy="790.8" r="5.13"/><circle cx="109.5" cy="790.4" r="5.12"/><circle cx="111.1" cy="790.0" r="5.12"/><circle cx="112.5" cy="789.6" r="5.11"/><circle cx="114.0" cy="789.2" r="5.10"/><circle cx="115.3" cy="788.9" r="5.09"/><circle cx="116.5" cy="788.5" r="5.08"/><circle cx="117.7" cy="788.2" r="5.08"/><circle cx="118.9" cy="787.9" r="5.07"/><circle cx="120.1" cy="787.5" r="5.06"/><circle cx="121.6" cy="787.1" r="5.05"/><circle cx="123.1" cy="786.7" r="5.04"/><circle cx="124.6" cy="786.3" r="5.03"/><circle cx="126.2" cy="786.0" r="5.02"/><circle cx="127.7" cy="785.6" r="5.01"/><circle cx="129.2" cy="785.2" r="5.00"/><circle cx="130.4" cy="784.9" r="5.00"/><circle cx="131.9" cy="784.5" r="5.00"/><circle cx="133.4" cy="784.2" r="5.00"/><circle cx="134.8" cy="783.8" r="5.00"/><circle cx="136.3" cy="783.5" r="5.00"/><circle cx="137.7" cy="783.2" r="5.00"/><circle cx="139.3" cy="782.8" r="5.00"/><circle cx="140.4" cy="782.6" r="5.00"/><circle cx="141.7" cy="782.3" r="5.00"/><circle cx="142.9" cy="782.0" r="5.00"/><circle cx="144.3" cy="781.8" r="5.00"/><circle cx="145.7" cy="781.5" r="5.00"/><circle cx="147.2" cy="781.2" r="5.00"/><circle cx="148.6" cy="781.0" r="5.00"/><circle cx="150.1" cy="780.7" r="5.00"/><circle cx="151.7" cy="780.4" r="5.00"/><circle cx="152.9" cy="780.2" r="5.00"/><circle cx="154.1" cy="780.0" r="5.00"/><circle cx="155.4" cy="779.8" r="5.00"/><circle cx="156.7" cy="779.6" r="5.00"/><circle cx="157.9" cy="779.4" r="5.00"/><circle cx="159.2" cy="779.2" r="5.00"/><circle cx="160.5" cy="779.0" r="5.00"/><circle cx="161.8" cy="778.8" r="5.00"/><circle cx="163.0" cy="778.6" r="5.00"/><circle cx="164.3" cy="778.4" r="5.00"/><circle cx="165.5" cy="778.2" r="5.00"/><circle cx="166.7" cy="778.0" r="5.00"/><circle cx="167.9" cy="777.8" r="5.00"/><circle cx="169.4" cy="777.5" r="5.00"/><circle cx="170.9" cy="777.2" r="5.00"/><circle cx="172.2" cy="776.9" r="5.00"/><circle cx="173.5" cy="776.6" r="5.00"/><circle cx="174.8" cy="776.4" r="5.00"/><circle cx="176.0" cy="776.1" r="5.00"/><circle cx="177.3" cy="775.8" r="5.00"/><circle cx="178.5" cy="775.5" r="5.00"/><circle cx="179.6" cy="775.2" r="5.00"/><circle cx="181.2" cy="774.8" r="5.00"/><circle cx="182.7" cy="774.4" r="5.00"/><circle cx="184.2" cy="774.0" r="5.00"/><circle cx="185.7" cy="773.6" r="5.00"/><circle cx="187.1" cy="773.2" r="5.00"/><circle cx="188.6" cy="772.8" r="5.00"/><circle cx="190.0" cy="772.4" r="5.00"/><circle cx="191.3" cy="772.0" r="4.99"/><circle cx="192.5" cy="771.7" r="4.98"/><circle cx="193.8" cy="771.3" r="4.98"/><circle cx="195.0" cy="770.9" r="4.97"/><circle cx="196.2" cy="770.6" r="4.96"/><circle cx="197.4" cy="770.2" r="4.95"/><circle cx="198.6" cy="769.8" r="4.95"/><circle cx="199.8" cy="769.4" r="4.94"/><circle cx="201.3" cy="768.9" r="4.93"/><circle cx="202.7" cy="768.4" r="4.92"/><circle cx="204.1" cy="767.9" r="4.91"/><circle cx="205.4" cy="767.4" r="4.90"/><circle cx="207.0" cy="766.8" r="4.88"/><circle cx="208.3" cy="766.2" r="4.85"/><circle cx="209.5" cy="765.6" r="4.82"/><circle cx="210.7" cy="765.0" r="4.80"/><circle cx="212.0" cy="764.2" r="4.77"/><circle cx="213.3" cy="763.4" r="4.74"/><circle cx="214.4" cy="762.7" r="4.71"/><circle cx="215.5" cy="762.1" r="4.68"/><circle cx="216.7" cy="761.4" r="4.63"/><circle cx="217.8" cy="760.8" r="4.59"/><circle cx="219.0" cy="760.0" r="4.54"/><circle cx="220.4" cy="759.2" r="4.49"/><circle cx="221.4" cy="758.5" r="4.47"/><circle cx="222.5" cy="757.9" r="4.45"/><circle cx="223.6" cy="757.3" r="4.43"/><circle cx="224.6" cy="756.6" r="4.41"/><circle cx="225.7" cy="756.0" r="4.37"/><circle cx="226.8" cy="755.3" r="4.33"/><circle cx="227.9" cy="754.6" r="4.29"/><circle cx="228.9" cy="753.9" r="4.24"/><circle cx="230.0" cy="753.2" r="4.20"/><circle cx="231.1" cy="752.5" r="4.05"/><circle cx="232.1" cy="751.8" r="3.90"/><circle cx="233.2" cy="751.2" r="3.75"/><circle cx="234.3" cy="750.6" r="3.60"/><circle cx="235.4" cy="750.1" r="3.45"/><circle cx="236.7" cy="749.7" r="3.30"/><circle cx="237.9" cy="749.4" r="3.15"/><circle cx="239.2" cy="749.3" r="3.00"/><circle cx="240.4" cy="749.3" r="2.87"/><circle cx="241.9" cy="749.7" r="2.75"/><circle cx="243.1" cy="750.1" r="2.65"/><circle cx="244.2" cy="750.5" r="2.56"/><circle cx="245.4" cy="751.1" r="2.44"/><circle cx="246.6" cy="751.8" r="2.25"/><circle cx="247.8" cy="752.6" r="2.05"/><circle cx="248.9" cy="753.3" r="1.87"/><circle cx="250.0" cy="754.0" r="1.70"/></g><g fill="#1c00ee" stroke="#140098" stroke-width="0.5"><circle cx="252.4" cy="757.5" r="1.20"/><circle cx="254.3" cy="760.0" r="1.20"/><circle cx="256.3" cy="762.3" r="1.20"/></g>
<g fill="#1c00ee" stroke="#140098" stroke-width="0.7"><circle cx="513.0" cy="768.7" r="1.30"/><circle cx="514.4" cy="768.4" r="1.44"/><circle cx="515.7" cy="768.1" r="1.55"/><circle cx="516.9" cy="767.8" r="1.65"/><circle cx="518.2" cy="767.4" r="1.76"/><circle cx="519.6" cy="767.1" r="1.87"/><circle cx="520.8" cy="767.1" r="2.03"/><circle cx="522.1" cy="767.3" r="2.23"/><circle cx="523.3" cy="767.5" r="2.43"/><circle cx="524.6" cy="767.9" r="2.63"/><circle cx="526.1" cy="768.4" r="2.87"/><circle cx="527.4" cy="768.9" r="3.08"/><circle cx="528.5" cy="769.4" r="3.26"/><circle cx="530.0" cy="770.0" r="3.50"/><circle cx="531.3" cy="770.4" r="3.61"/><circle cx="532.7" cy="770.9" r="3.74"/><circle cx="533.9" cy="771.3" r="3.85"/><circle cx="535.1" cy="771.7" r="3.96"/><circle cx="536.3" cy="772.1" r="4.07"/><circle cx="537.6" cy="772.5" r="4.18"/><circle cx="538.8" cy="772.9" r="4.29"/><circle cx="540.0" cy="773.3" r="4.40"/><circle cx="541.2" cy="773.7" r="4.46"/><circle cx="542.3" cy="774.0" r="4.52"/><circle cx="543.5" cy="774.4" r="4.57"/><circle cx="544.6" cy="774.8" r="4.63"/><circle cx="545.8" cy="775.1" r="4.69"/><circle cx="546.9" cy="775.5" r="4.75"/><circle cx="548.1" cy="775.9" r="4.80"/><circle cx="549.2" cy="776.3" r="4.86"/><circle cx="550.4" cy="776.7" r="4.91"/><circle cx="551.9" cy="777.3" r="4.96"/><circle cx="553.0" cy="777.8" r="4.99"/><circle cx="554.1" cy="778.3" r="5.02"/><circle cx="555.2" cy="778.7" r="5.06"/><circle cx="556.3" cy="779.2" r="5.09"/><circle cx="557.4" cy="779.7" r="5.12"/><circle cx="558.5" cy="780.2" r="5.16"/><circle cx="559.6" cy="780.6" r="5.19"/><circle cx="560.8" cy="781.1" r="5.21"/><circle cx="561.9" cy="781.6" r="5.22"/><circle cx="563.1" cy="782.1" r="5.23"/><circle cx="564.2" cy="782.5" r="5.24"/><circle cx="565.4" cy="783.0" r="5.25"/><circle cx="566.5" cy="783.5" r="5.27"/><circle cx="567.7" cy="783.9" r="5.28"/><circle cx="568.8" cy="784.4" r="5.29"/><circle cx="570.0" cy="784.8" r="5.30"/><circle cx="571.2" cy="785.2" r="5.31"/><circle cx="572.3" cy="785.7" r="5.32"/><circle cx="573.5" cy="786.1" r="5.33"/><circle cx="574.6" cy="786.5" r="5.35"/><circle cx="575.8" cy="786.9" r="5.36"/><circle cx="576.9" cy="787.3" r="5.37"/><circle cx="578.1" cy="787.8" r="5.38"/><circle cx="579.2" cy="788.1" r="5.39"/><circle cx="580.4" cy="788.5" r="5.40"/><circle cx="581.5" cy="788.9" r="5.40"/><circle cx="582.7" cy="789.3" r="5.40"/><circle cx="583.8" cy="789.6" r="5.40"/><circle cx="585.0" cy="790.0" r="5.40"/><circle cx="586.2" cy="790.3" r="5.40"/><circle cx="587.3" cy="790.7" r="5.40"/><circle cx="588.8" cy="791.1" r="5.40"/><circle cx="590.4" cy="791.5" r="5.40"/><circle cx="591.7" cy="791.8" r="5.40"/><circle cx="593.0" cy="792.2" r="5.40"/><circle cx="594.3" cy="792.5" r="5.40"/><circle cx="595.6" cy="792.8" r="5.40"/><circle cx="596.8" cy="793.1" r="5.40"/><circle cx="598.0" cy="793.3" r="5.40"/><circle cx="599.4" cy="793.7" r="5.40"/><circle cx="600.6" cy="793.9" r="5.40"/><circle cx="601.8" cy="794.2" r="5.40"/><circle cx="603.0" cy="794.4" r="5.40"/><circle cx="604.3" cy="794.7" r="5.40"/><circle cx="605.9" cy="794.9" r="5.40"/><circle cx="607.3" cy="795.2" r="5.40"/><circle cx="608.7" cy="795.4" r="5.40"/><circle cx="610.1" cy="795.7" r="5.40"/><circle cx="611.5" cy="795.9" r="5.40"/></g><g fill="#1c00ee" stroke="#140098" stroke-width="0.5"><circle cx="507.7" cy="785.7" r="1.20"/><circle cx="509.7" cy="779.9" r="1.20"/><circle cx="511.6" cy="771.9" r="1.20"/></g>
</g>
<path d="M605,561.8 H77 V838.6 H605" fill="none" stroke="#111" stroke-width="1.8"/>
<path d="M605,562.6 V837.8" stroke="#f0861e" stroke-width="2"/>
<text x="79.9" y="598.4" font-size="61" font-weight="bold">c</text>
<path d="M69.5,561.8 H77.0" stroke="#000" stroke-width="1.8"/>
<g transform="translate(66.00,570.80) scale(0.96,1.04) translate(-66.00,-570.80)"><path transform="translate(29.29,570.80) scale(0.01074,-0.01074)" d="M515 0V1237L197 1010V1180L530 1409H696V0Z" fill="#000"/><text x="41.53" y="570.80" font-size="22" fill="#000">75</text></g>
<path d="M69.5,654.0 H77.0" stroke="#000" stroke-width="1.8"/>
<g transform="translate(66.00,663.00) scale(0.96,1.04) translate(-66.00,-663.00)"><path transform="translate(29.29,663.00) scale(0.01074,-0.01074)" d="M515 0V1237L197 1010V1180L530 1409H696V0Z" fill="#000"/><text x="41.53" y="663.00" font-size="22" fill="#000">70</text></g>
<path d="M69.5,746.2 H77.0" stroke="#000" stroke-width="1.8"/>
<g transform="translate(66.00,755.20) scale(0.96,1.04) translate(-66.00,-755.20)"><path transform="translate(29.29,755.20) scale(0.01074,-0.01074)" d="M515 0V1237L197 1010V1180L530 1409H696V0Z" fill="#000"/><text x="41.53" y="755.20" font-size="22" fill="#000">65</text></g>
<path d="M69.5,838.4 H77.0" stroke="#000" stroke-width="1.8"/>
<g transform="translate(66.00,847.40) scale(0.96,1.04) translate(-66.00,-847.40)"><path transform="translate(29.29,847.40) scale(0.01074,-0.01074)" d="M515 0V1237L197 1010V1180L530 1409H696V0Z" fill="#000"/><text x="41.53" y="847.40" font-size="22" fill="#000">60</text></g>
<text transform="translate(23.3,696) rotate(-90)" font-size="26" text-anchor="middle">Primitive cell volume (Å<tspan font-size="15" dy="-8.5">3</tspan><tspan dy="8.5">)</tspan></text>
<path d="M606,574 H613 M606,826.2 H613" stroke="#f0861e" stroke-width="1.8"/>
<g transform="translate(619.40,571.30) scale(1.0,1.13) translate(-619.40,-571.30)"><path transform="translate(619.40,571.30) scale(0.01172,-0.01172)" d="M515 0V1237L197 1010V1180L530 1409H696V0Z" fill="#f0861e"/><text x="632.75" y="571.30" font-size="24" fill="#f0861e">00%</text></g><g transform="translate(622.40,819.60) scale(1.0,1.13) translate(-622.40,-819.60)"><path transform="translate(622.40,819.60) scale(0.01172,-0.01172)" d="M515 0V1237L197 1010V1180L530 1409H696V0Z" fill="#f0861e"/><text x="635.75" y="819.60" font-size="24" fill="#f0861e">00%</text></g>
<g font-size="24" fill="#f0861e"><text transform="translate(619.0,601.9) scale(1.02,1.13)">FCC</text><text transform="translate(621.6,850.2) scale(1.06,1.16)">BCT</text></g>
<path d="M78.7,838.6 V846M172.3,838.6 V846M265.7,838.6 V846M337.9,838.6 V846M416.2,838.6 V846M509.8,838.6 V846M601.5,838.6 V846M125.7,838.6 V846M219.2,838.6 V846M312.7,838.6 V846M369.0,838.6 V846M462.9,838.6 V846M555.5,838.6 V846" stroke="#111" stroke-width="1.8"/>
<g transform="translate(77.90,867.30) scale(0.95,1.03) translate(-77.90,-867.30)"><text x="59.55" y="867.30" font-size="22" fill="#000">240</text></g><g transform="translate(171.50,867.30) scale(0.95,1.03) translate(-171.50,-867.30)"><text x="153.15" y="867.30" font-size="22" fill="#000">280</text></g><g transform="translate(264.90,867.30) scale(0.95,1.03) translate(-264.90,-867.30)"><text x="246.55" y="867.30" font-size="22" fill="#000">320</text></g><g transform="translate(337.10,867.30) scale(0.95,1.03) translate(-337.10,-867.30)"><text x="318.75" y="867.30" font-size="22" fill="#000">350</text></g><g transform="translate(415.40,867.30) scale(0.95,1.03) translate(-415.40,-867.30)"><text x="397.05" y="867.30" font-size="22" fill="#000">320</text></g><g transform="translate(509.00,867.30) scale(0.95,1.03) translate(-509.00,-867.30)"><text x="490.65" y="867.30" font-size="22" fill="#000">280</text></g><g transform="translate(600.70,867.30) scale(0.95,1.03) translate(-600.70,-867.30)"><text x="582.35" y="867.30" font-size="22" fill="#000">240</text></g>
<text x="342.5" y="895" font-size="26" text-anchor="middle"><tspan font-style="italic">T</tspan> (K)</text>
<circle cx="325" cy="714.4" r="6.3" fill="#1b00e6" stroke="#10008a" stroke-width="1"/>
<path d="M319.2,732.6 L331.6,732.6 L325.4,744.4 Z" fill="#f0200e" stroke="#900a08" stroke-width="1.7" stroke-linejoin="round"/>
<path d="M295.9,762.2 H336.5" stroke="#f0861e" stroke-width="3.4" stroke-dasharray="10.1 4.9"/>
<g font-size="20.2"><text transform="translate(339.4,722.1) scale(1,1.04)">BCT</text><text transform="translate(339.4,745.3) scale(1,1.04)">FCC</text><text transform="translate(339.4,768.3) scale(1,1.04)">Phase fraction</text></g>
</svg></body></html>
